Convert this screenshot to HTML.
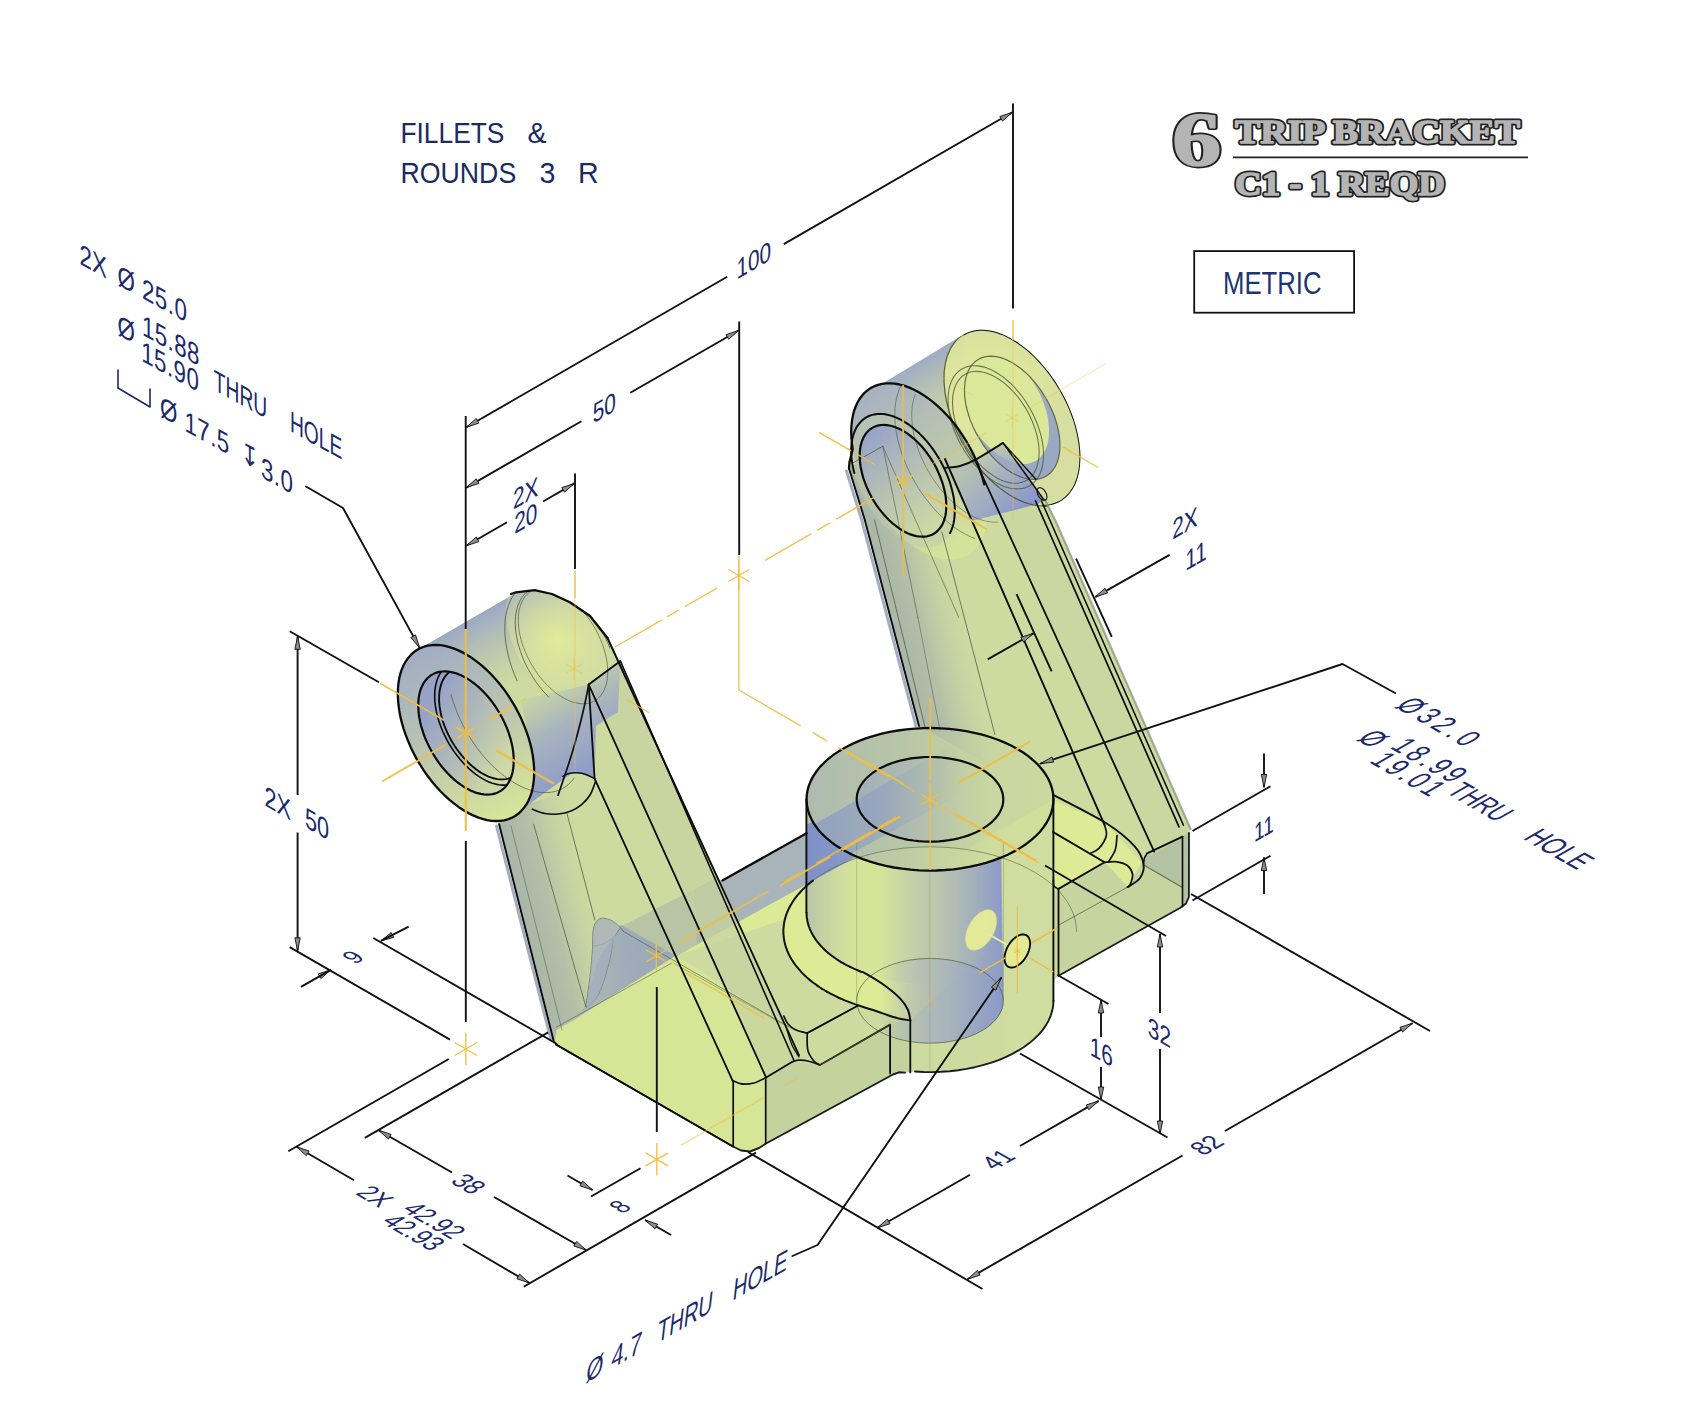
<!DOCTYPE html>
<html><head><meta charset="utf-8"><title>Trip Bracket</title>
<style>html,body{margin:0;padding:0;background:#fff}svg{display:block}text{font-family:"Liberation Sans",sans-serif}</style>
</head><body>
<svg width="1701" height="1411" viewBox="0 0 1701 1411">
<rect width="1701" height="1411" fill="#fff"/>
<polygon points="417.8,649.5 414.5,651.6 411.5,654.2 408.7,657.2 406.2,660.6 404.1,664.3 402.2,668.3 400.7,672.7 399.4,677.4 398.6,682.4 398.0,687.6 397.8,693.0 397.9,698.6 398.4,704.5 399.2,710.4 400.4,716.5 401.8,722.6 403.6,728.8 405.7,735.1 408.1,741.3 410.8,747.4 413.8,753.5 417.0,759.5 420.5,765.4 424.2,771.1 428.1,776.6 432.2,781.9 436.5,786.9 440.9,791.7 445.4,796.2 450.1,800.4 454.8,804.2 459.6,807.7 464.4,810.8 469.2,813.5 474.0,815.8 478.8,817.7 483.5,819.2 488.1,820.3 492.6,820.9 497.0,821.0 499.1,824.2 553.5,1040.0 556.0,1044.5 733.0,1146.5 741.0,1150.5 750.0,1151.5 759.0,1148.0 766.0,1143.5 893.0,1074.5 899.0,1072.3 905.0,1072.6 915.0,1071.5 923.6,1072.0 932.3,1072.1 941.0,1071.8 949.7,1071.2 958.2,1070.2 966.6,1068.9 974.8,1067.2 982.8,1065.2 990.6,1062.9 998.0,1060.3 1005.1,1057.4 1011.8,1054.2 1018.1,1050.7 1024.0,1047.0 1029.4,1043.1 1034.3,1038.9 1038.7,1034.6 1042.6,1030.1 1045.9,1025.4 1048.6,1020.6 1050.7,1015.8 1052.2,1010.8 1053.1,1005.8 1053.5,1000.8 1053.5,985.0 1055.0,979.0 1058.5,975.7 1180.0,908.0 1186.0,903.5 1188.9,897.0 1189.0,833.0 1190.5,829.0 1056.0,522.0 1045.0,500.0 1043.2,505.8 1047.4,505.6 1051.4,504.9 1055.2,503.7 1058.9,502.2 1062.2,500.2 1065.4,497.8 1068.3,495.0 1070.9,491.8 1073.2,488.3 1075.2,484.4 1076.9,480.2 1078.2,475.7 1079.3,470.8 1080.0,465.7 1080.3,460.4 1080.4,454.9 1080.1,449.2 1079.4,443.3 1078.4,437.3 1077.1,431.2 1075.5,425.0 1073.6,418.8 1071.3,412.6 1068.8,406.4 1065.9,400.3 1062.8,394.3 1059.5,388.4 1055.9,382.6 1052.1,377.0 1048.1,371.6 1043.9,366.4 1039.6,361.5 1035.1,356.9 1030.6,352.6 1025.9,348.5 1021.1,344.9 1016.4,341.6 1011.5,338.7 1006.7,336.2 1002.0,334.0 997.2,332.3 992.6,331.1 988.0,330.2 983.6,329.8 979.3,329.8 975.2,330.3 971.2,331.2 967.5,332.5 964.0,334.3 883.9,382.8 871.2,387.8 867.9,390.0 864.8,392.6 862.1,395.6 859.6,398.9 857.4,402.7 855.5,406.8 854.0,411.2 852.8,415.9 851.9,420.9 851.4,426.2 851.2,431.6 851.4,437.3 851.9,443.2 852.7,449.2 849.5,462.0 848.6,469.0 864.8,520.0 919.0,726.0 919.2,728.3 910.6,728.9 902.0,729.9 893.6,731.2 885.4,732.8 877.4,734.8 869.6,737.1 862.2,739.7 855.0,742.7 848.3,745.9 842.0,749.3 836.1,753.0 830.7,757.0 825.7,761.1 821.3,765.5 817.5,770.0 814.2,774.6 811.4,779.4 809.3,784.3 807.8,789.3 806.9,794.3 806.5,799.3 806.3,833.4 719.0,881.5 607.5,638.0 605.1,635.0 590.0,616.0 569.9,602.3 552.0,594.0 534.6,590.1 515.8,592.9" stroke="none" stroke-width="0" fill="#cedba0" stroke-linejoin="round" stroke-linecap="round" />
<clipPath id="cpSil"><polygon points="417.8,649.5 414.5,651.6 411.5,654.2 408.7,657.2 406.2,660.6 404.1,664.3 402.2,668.3 400.7,672.7 399.4,677.4 398.6,682.4 398.0,687.6 397.8,693.0 397.9,698.6 398.4,704.5 399.2,710.4 400.4,716.5 401.8,722.6 403.6,728.8 405.7,735.1 408.1,741.3 410.8,747.4 413.8,753.5 417.0,759.5 420.5,765.4 424.2,771.1 428.1,776.6 432.2,781.9 436.5,786.9 440.9,791.7 445.4,796.2 450.1,800.4 454.8,804.2 459.6,807.7 464.4,810.8 469.2,813.5 474.0,815.8 478.8,817.7 483.5,819.2 488.1,820.3 492.6,820.9 497.0,821.0 499.1,824.2 553.5,1040.0 556.0,1044.5 733.0,1146.5 741.0,1150.5 750.0,1151.5 759.0,1148.0 766.0,1143.5 893.0,1074.5 899.0,1072.3 905.0,1072.6 915.0,1071.5 923.6,1072.0 932.3,1072.1 941.0,1071.8 949.7,1071.2 958.2,1070.2 966.6,1068.9 974.8,1067.2 982.8,1065.2 990.6,1062.9 998.0,1060.3 1005.1,1057.4 1011.8,1054.2 1018.1,1050.7 1024.0,1047.0 1029.4,1043.1 1034.3,1038.9 1038.7,1034.6 1042.6,1030.1 1045.9,1025.4 1048.6,1020.6 1050.7,1015.8 1052.2,1010.8 1053.1,1005.8 1053.5,1000.8 1053.5,985.0 1055.0,979.0 1058.5,975.7 1180.0,908.0 1186.0,903.5 1188.9,897.0 1189.0,833.0 1190.5,829.0 1056.0,522.0 1045.0,500.0 1043.2,505.8 1047.4,505.6 1051.4,504.9 1055.2,503.7 1058.9,502.2 1062.2,500.2 1065.4,497.8 1068.3,495.0 1070.9,491.8 1073.2,488.3 1075.2,484.4 1076.9,480.2 1078.2,475.7 1079.3,470.8 1080.0,465.7 1080.3,460.4 1080.4,454.9 1080.1,449.2 1079.4,443.3 1078.4,437.3 1077.1,431.2 1075.5,425.0 1073.6,418.8 1071.3,412.6 1068.8,406.4 1065.9,400.3 1062.8,394.3 1059.5,388.4 1055.9,382.6 1052.1,377.0 1048.1,371.6 1043.9,366.4 1039.6,361.5 1035.1,356.9 1030.6,352.6 1025.9,348.5 1021.1,344.9 1016.4,341.6 1011.5,338.7 1006.7,336.2 1002.0,334.0 997.2,332.3 992.6,331.1 988.0,330.2 983.6,329.8 979.3,329.8 975.2,330.3 971.2,331.2 967.5,332.5 964.0,334.3 883.9,382.8 871.2,387.8 867.9,390.0 864.8,392.6 862.1,395.6 859.6,398.9 857.4,402.7 855.5,406.8 854.0,411.2 852.8,415.9 851.9,420.9 851.4,426.2 851.2,431.6 851.4,437.3 851.9,443.2 852.7,449.2 849.5,462.0 848.6,469.0 864.8,520.0 919.0,726.0 919.2,728.3 910.6,728.9 902.0,729.9 893.6,731.2 885.4,732.8 877.4,734.8 869.6,737.1 862.2,739.7 855.0,742.7 848.3,745.9 842.0,749.3 836.1,753.0 830.7,757.0 825.7,761.1 821.3,765.5 817.5,770.0 814.2,774.6 811.4,779.4 809.3,784.3 807.8,789.3 806.9,794.3 806.5,799.3 806.3,833.4 719.0,881.5 607.5,638.0 605.1,635.0 590.0,616.0 569.9,602.3 552.0,594.0 534.6,590.1 515.8,592.9"/></clipPath>
<defs>
<linearGradient id="gBossTop" gradientUnits="userSpaceOnUse" x1="470" y1="620" x2="515" y2="698"><stop offset="0" stop-color="#9aa6c8" stop-opacity="0.95"/><stop offset="0.55" stop-color="#b9c4b0" stop-opacity="0.6"/><stop offset="1" stop-color="#cedba0" stop-opacity="0"/></linearGradient>
<linearGradient id="gBossTopR" gradientUnits="userSpaceOnUse" x1="925" y1="355" x2="970" y2="433"><stop offset="0" stop-color="#9aa6c8" stop-opacity="0.95"/><stop offset="0.55" stop-color="#b9c4b0" stop-opacity="0.6"/><stop offset="1" stop-color="#cedba0" stop-opacity="0"/></linearGradient>
<linearGradient id="gAnn" gradientUnits="userSpaceOnUse" x1="425" y1="655" x2="505" y2="812"><stop offset="0" stop-color="#a3aec4"/><stop offset="0.5" stop-color="#bcc6b0"/><stop offset="1" stop-color="#d6e39a"/></linearGradient>
<linearGradient id="gHoleL" gradientUnits="userSpaceOnUse" x1="440" y1="690" x2="520" y2="735"><stop offset="0" stop-color="#97a3c6"/><stop offset="0.6" stop-color="#b6c0b4"/><stop offset="1" stop-color="#cfd8a6"/></linearGradient>
<linearGradient id="gUnder" gradientUnits="userSpaceOnUse" x1="560" y1="700" x2="590" y2="752"><stop offset="0" stop-color="#9ba7c6" stop-opacity="0"/><stop offset="0.6" stop-color="#9ba7c6" stop-opacity="0.75"/><stop offset="1" stop-color="#95a2c6" stop-opacity="0.95"/></linearGradient>
<linearGradient id="gUnderR" gradientUnits="userSpaceOnUse" x1="985" y1="450" x2="1015" y2="502"><stop offset="0" stop-color="#9ba7c6" stop-opacity="0"/><stop offset="0.6" stop-color="#9ba7c6" stop-opacity="0.75"/><stop offset="1" stop-color="#8f9cc8" stop-opacity="0.95"/></linearGradient>
<linearGradient id="gBand" gradientUnits="userSpaceOnUse" x1="700" y1="893" x2="700" y2="935"><stop offset="0" stop-color="#97a3c8" stop-opacity="0.95"/><stop offset="0.6" stop-color="#a9b4bd" stop-opacity="0.8"/><stop offset="1" stop-color="#c9d2a8" stop-opacity="0"/></linearGradient>
<linearGradient id="gBore" gradientUnits="userSpaceOnUse" x1="880" y1="0" x2="1003" y2="0"><stop offset="0" stop-color="#9aa6c6" stop-opacity="0"/><stop offset="0.55" stop-color="#a3aebf" stop-opacity="0.7"/><stop offset="1" stop-color="#8b99c9" stop-opacity="1"/></linearGradient>
<linearGradient id="gBoreTop" gradientUnits="userSpaceOnUse" x1="857" y1="0" x2="1003" y2="0"><stop offset="0" stop-color="#8e9cc8"/><stop offset="0.45" stop-color="#a6b3b8"/><stop offset="0.8" stop-color="#c3d1a2"/><stop offset="1" stop-color="#cbd9a0"/></linearGradient>
<linearGradient id="gHubL" gradientUnits="userSpaceOnUse" x1="806" y1="0" x2="935" y2="0"><stop offset="0" stop-color="#b3bdb6" stop-opacity="0.85"/><stop offset="0.4" stop-color="#c3ccae" stop-opacity="0.6"/><stop offset="0.75" stop-color="#d3dba2" stop-opacity="0"/><stop offset="1" stop-color="#d3dba2" stop-opacity="0"/></linearGradient>
<linearGradient id="gHubTop" gradientUnits="userSpaceOnUse" x1="806" y1="0" x2="1053" y2="0"><stop offset="0" stop-color="#9aa8b8"/><stop offset="0.4" stop-color="#aab8ac"/><stop offset="0.75" stop-color="#c6d4a0"/><stop offset="1" stop-color="#c9d7a0"/></linearGradient>
<linearGradient id="gArmL" gradientUnits="userSpaceOnUse" x1="500" y1="900" x2="600" y2="875"><stop offset="0" stop-color="#a3afaa"/><stop offset="0.45" stop-color="#b3bfa7"/><stop offset="1" stop-color="#cedba0" stop-opacity="0"/></linearGradient>
<linearGradient id="gArmR" gradientUnits="userSpaceOnUse" x1="872" y1="620" x2="972" y2="595"><stop offset="0" stop-color="#a3afaa"/><stop offset="0.45" stop-color="#b3bfa7"/><stop offset="1" stop-color="#cedba0" stop-opacity="0"/></linearGradient>
<radialGradient id="gBackR" gradientUnits="userSpaceOnUse" cx="990" cy="395" r="80"><stop offset="0" stop-color="#e6ec98"/><stop offset="1" stop-color="#d6dea2"/></radialGradient>
<radialGradient id="gBackL" gradientUnits="userSpaceOnUse" cx="558" cy="640" r="70"><stop offset="0" stop-color="#e3ea98"/><stop offset="1" stop-color="#d2dba4" stop-opacity="0.3"/></radialGradient>
</defs>
<g clip-path="url(#cpSil)">
<polygon points="677.6,955.2 806.4,884.4 806.4,912.6 783.4,931.5 783.5,934.3 783.7,937.0 784.1,939.8 784.7,942.5 785.4,945.3 786.2,948.0 787.2,950.7 788.4,953.4 789.7,956.1 791.2,958.7 792.8,961.3 794.6,963.9 796.5,966.4 798.5,968.9 800.7,971.4 803.0,973.8 805.5,976.2 808.1,978.5 810.8,980.8 813.7,983.0 816.7,985.2 819.8,987.3 823.0,989.4 826.3,991.4 829.8,993.3 833.3,995.1 837.0,996.9 840.8,998.6 844.6,1000.3 848.6,1001.9 852.6,1003.4 856.7,1004.8 860.9,1006.1 865.2,1007.4 869.5,1008.6 873.9,1009.7 878.4,1010.7 882.9,1011.6 887.4,1012.5 892.1,1013.3 890.0,1017.0 910.0,1020.0 1058.5,889.0 1053.0,880.0 1053.0,800.0 930.0,870.0 806.0,912.0" fill="#dcea96" opacity="1.0" />
<polygon points="892.1,1013.3 884.7,1012.0 877.5,1010.5 870.4,1008.8 863.4,1006.9 856.7,1004.8 850.2,1002.5 843.8,1000.0 837.7,997.3 831.9,994.4 826.3,991.4 821.1,988.1 816.1,984.8 811.4,981.3 807.0,977.6 803.0,973.8 799.4,969.9 796.1,965.9 793.1,961.8 790.6,957.7 788.4,953.4 786.6,949.1 785.2,944.7 784.2,940.3 783.6,935.9 783.4,931.5 783.6,927.1 784.2,922.7 785.2,918.3 786.6,913.9 788.4,909.6 790.6,905.3 793.1,901.2 796.1,897.1 799.4,893.1 803.0,889.2 807.0,885.4 811.4,881.7 816.1,878.2 821.1,874.9 826.3,871.6 831.9,868.6 837.7,865.7 843.8,863.0 850.2,860.5 856.7,858.2 863.4,856.1 870.4,854.2 877.5,852.5 884.7,851.0 892.1,849.7 899.5,848.7 907.1,847.9 914.7,847.3 922.3,847.0 930.0,846.9 937.7,847.0 945.3,847.3 952.9,847.9 960.5,848.7 967.9,849.7 1053.0,800.0 1053.0,880.0 1058.5,889.0 910.0,1020.0 890.0,1017.0" fill="#deeb96" opacity="1.0" />
<polygon points="1053.0,800.0 1106.0,823.0 1143.0,864.0 1127.6,887.0 1104.6,862.3 1058.5,889.0 1053.0,880.0" fill="#deeb96" opacity="1.0" />
<polygon points="719.0,875.4 806.4,825.0 806.4,884.4 719.0,932.4" fill="#a7b5ba" opacity="1.0" />
<polygon points="765.7,1077.7 792.3,1061.8 820.0,1065.0 890.0,1024.6 910.3,1020.3 910.3,1072.4 893.0,1074.5 766.0,1143.5" fill="#c4d29e" opacity="1.0" />
<polygon points="1058.5,888.9 1104.6,862.3 1127.6,887.1 1147.1,853.4 1182.5,836.6 1189.0,833.0 1189.0,897.0 1180.0,908.0 1058.5,975.7" fill="#c6d4a0" opacity="1.0" />
<polygon points="1143.8,865.0 1147.0,856.0 1154.4,853.3 1182.0,837.4 1182.0,887.3" fill="#b5c3a5" opacity="1.0" />
<polygon points="1182.3,837.0 1189.0,832.0 1189.0,897.0 1186.0,903.5 1182.3,906.0" fill="#b3c0a8" opacity="1.0" />
<polygon points="499.1,824.2 505.0,812.0 540.0,800.0 594.6,778.7 732.6,1080.7 735.0,1147.0 554.0,1042.4" fill="url(#gArmL)"/>
<polygon points="848.8,469.0 870.0,455.0 900.0,470.0 976.0,462.0 1104.0,818.0 1053.0,800.0 919.0,726.0 864.8,520.0" fill="url(#gArmR)"/>
<polygon points="622.0,926.0 700.0,886.3 700.0,942.9 676.4,956.4" fill="#b6c3a6" opacity="0.95" />
<polygon points="694.0,889.8 719.0,875.4 742.0,919.8 700.0,942.9 697.0,944.5" fill="#aab7ac" opacity="0.95" />
<linearGradient id="gWedge" gradientUnits="userSpaceOnUse" x1="590" y1="960" x2="670" y2="950"><stop offset="0" stop-color="#aab6b2"/><stop offset="0.5" stop-color="#9eabb9"/><stop offset="1" stop-color="#9aa8b8"/></linearGradient>
<polygon points="574.0,1020.0 584.0,1008.0 598.0,960.0 621.1,924.7 675.8,955.8" fill="url(#gWedge)" opacity="1.0" />
<polygon points="556.5,1030.0 574.0,1020.0 675.8,955.8 786.0,1024.5 799.0,1055.0 766.0,1078.0 766.0,1143.0 750.0,1151.5 735.0,1147.0 554.5,1043.0" fill="#d7e696" opacity="1.0" />
<polygon points="588.7,684.6 620.4,661.1 799.0,1055.2 765.8,1076.9" fill="#c6d3a0" opacity="0.75" />
<polygon points="976.0,462.0 1039.0,500.0 1187.7,830.8 1152.8,852.5" fill="#c8d5a0" opacity="0.75" />
<polygon points="417.8,649.5 421.3,647.7 425.0,646.4 428.9,645.5 432.9,645.0 437.2,645.0 441.6,645.4 446.1,646.2 450.7,647.4 455.3,649.1 460.1,651.1 464.8,653.6 469.6,656.4 474.3,659.6 479.0,663.2 483.7,667.1 488.2,671.4 492.6,675.9 497.0,680.7 501.1,685.8 505.1,691.1 508.9,696.6 512.5,702.3 515.9,708.1 519.0,714.0 521.9,720.1 607.0,640.0 605.1,635.0 590.0,616.0 569.9,602.3 552.0,594.0 534.6,590.1 515.8,592.9" fill="url(#gBossTop)"/>
<polygon points="606.2,669.0 606.1,664.9 605.7,660.6 605.1,656.3 604.3,651.9 603.2,647.4 601.9,642.9 600.3,638.4 598.6,633.9 596.6,629.4 594.5,624.9 592.1,620.6 589.6,616.3 586.9,612.2 584.1,608.2 581.1,604.3 578.0,600.6 574.8,597.1 571.5,593.8 568.1,590.8 564.7,588.0 561.2,585.4 557.8,583.1 554.2,581.1 550.8,579.3 547.3,577.9 543.9,576.8 540.5,575.9 537.2,575.4 534.0,575.2 530.9,575.3 527.9,575.7 525.1,576.5 522.4,577.5 519.9,578.9 517.5,580.5 515.4,582.5 513.4,584.7 511.7,587.2 510.1,590.0 508.8,592.9 507.7,596.2 506.9,599.6 506.3,603.2 505.9,607.0 505.8,611.0 505.9,615.1 506.3,619.4 506.9,623.7 507.7,628.1 508.8,632.6 510.1,637.1 511.7,641.6 513.4,646.1 515.4,650.6 517.5,655.1 519.9,659.4 522.4,663.7 525.1,667.8 527.9,671.8 530.9,675.7 534.0,679.4 537.2,682.9 540.5,686.2 543.9,689.2 547.3,692.0 550.8,694.6 554.2,696.9 557.8,698.9 561.2,700.7 564.7,702.1 568.1,703.2 571.5,704.1 574.8,704.6 578.0,704.8 581.1,704.7 584.1,704.3 586.9,703.5 589.6,702.5 592.1,701.1 594.5,699.5 596.6,697.5 598.6,695.3 600.3,692.8 601.9,690.0 603.2,687.1 604.3,683.8 605.1,680.4 605.7,676.8 606.1,673.0 606.2,669.0" fill="url(#gBackL)" opacity="1.0" />
<linearGradient id="gUnder2" gradientUnits="userSpaceOnUse" x1="540" y1="690" x2="586" y2="770"><stop offset="0" stop-color="#a6b1c0" stop-opacity="0.15"/><stop offset="0.45" stop-color="#9eaac4" stop-opacity="0.8"/><stop offset="1" stop-color="#909dc8" stop-opacity="1"/></linearGradient>
<polygon points="520.5,700.0 588.7,684.6 620.4,661.1 618.0,712.0 596.0,726.0 594.6,778.7 574.6,771.6 534.6,800.0 514.3,816.5 525.1,806.5 527.4,802.8 529.4,798.7 531.0,794.2 532.4,789.5 533.3,784.4 533.9,779.1 534.2,773.5 534.1,767.7 533.6,761.8 532.8,755.6 531.6,749.4 530.1,743.1" fill="url(#gUnder2)"/>
<polygon points="534.2,772.4 534.0,766.8 533.5,761.0 532.7,755.1 531.6,749.1 530.1,743.1 528.3,736.9 526.2,730.8 523.8,724.7 521.2,718.6 518.2,712.5 515.1,706.6 511.6,700.8 508.0,695.2 504.1,689.7 500.1,684.5 495.9,679.5 491.5,674.7 487.1,670.3 482.5,666.1 477.8,662.3 473.1,658.8 468.4,655.7 463.6,652.9 458.9,650.6 454.2,648.6 449.5,647.1 444.9,645.9 440.5,645.2 436.1,645.0 431.9,645.1 427.9,645.7 424.0,646.7 420.4,648.1 416.9,650.0 413.8,652.2 410.8,654.9 408.2,657.9 405.8,661.3 403.7,665.0 401.9,669.1 400.4,673.4 399.3,678.1 398.5,683.0 398.0,688.2 397.8,693.6 398.0,699.2 398.5,705.0 399.3,710.9 400.4,716.9 401.9,722.9 403.7,729.1 405.8,735.2 408.2,741.3 410.8,747.4 413.8,753.5 416.9,759.4 420.4,765.2 424.0,770.8 427.9,776.3 431.9,781.5 436.1,786.5 440.5,791.3 444.9,795.7 449.5,799.9 454.2,803.7 458.9,807.2 463.6,810.3 468.4,813.1 473.1,815.4 477.8,817.4 482.5,818.9 487.1,820.1 491.5,820.8 495.9,821.0 500.1,820.9 504.1,820.3 508.0,819.3 511.6,817.9 515.1,816.0 518.2,813.8 521.2,811.1 523.8,808.1 526.2,804.7 528.3,801.0 530.1,796.9 531.6,792.6 532.7,787.9 533.5,783.0 534.0,777.8 534.2,772.4" fill="url(#gAnn)" opacity="1.0" />
<polygon points="513.7,760.6 513.6,756.7 513.3,752.6 512.7,748.5 511.9,744.3 510.9,740.0 509.6,735.8 508.2,731.5 506.5,727.2 504.6,722.9 502.6,718.7 500.3,714.5 497.9,710.5 495.4,706.5 492.7,702.7 489.9,699.0 486.9,695.5 483.9,692.2 480.8,689.1 477.5,686.2 474.3,683.5 471.0,681.1 467.7,678.9 464.3,676.9 461.0,675.3 457.7,673.9 454.5,672.8 451.2,672.1 448.1,671.6 445.1,671.4 442.1,671.5 439.3,671.9 436.6,672.6 434.1,673.6 431.7,674.9 429.4,676.5 427.4,678.3 425.5,680.4 423.8,682.8 422.4,685.4 421.1,688.2 420.1,691.3 419.3,694.6 418.7,698.0 418.4,701.7 418.3,705.4 418.4,709.3 418.7,713.4 419.3,717.5 420.1,721.7 421.1,726.0 422.4,730.2 423.8,734.5 425.5,738.8 427.4,743.1 429.4,747.3 431.7,751.5 434.1,755.5 436.6,759.5 439.3,763.3 442.1,767.0 445.1,770.5 448.1,773.8 451.2,776.9 454.5,779.8 457.7,782.5 461.0,784.9 464.3,787.1 467.7,789.1 471.0,790.7 474.3,792.1 477.5,793.2 480.8,793.9 483.9,794.4 486.9,794.6 489.9,794.5 492.7,794.1 495.4,793.4 497.9,792.4 500.3,791.1 502.6,789.5 504.6,787.7 506.5,785.6 508.2,783.2 509.6,780.6 510.9,777.8 511.9,774.7 512.7,771.4 513.3,768.0 513.6,764.3 513.7,760.6" fill="url(#gHoleL)" opacity="1.0" />
<polygon points="871.2,387.8 874.8,386.0 878.6,384.7 882.6,383.8 886.8,383.3 891.2,383.3 895.7,383.8 900.3,384.7 905.1,386.0 909.9,387.8 914.7,390.0 919.6,392.7 924.5,395.7 929.4,399.1 934.2,402.9 938.9,407.1 943.5,411.6 948.0,416.4 952.4,421.4 956.6,426.7 960.6,432.3 964.4,438.1 967.9,444.0 971.2,450.0 974.3,456.2 977.0,462.5 979.5,468.8 981.7,475.1 983.5,481.4 1000.0,445.0 948.1,407.7 946.6,401.6 945.5,395.5 944.6,389.5 944.1,383.7 944.0,378.0 944.2,372.5 944.7,367.3 945.6,362.3 946.8,357.6 948.4,353.2 950.2,349.1 952.4,345.4 954.9,342.0 957.6,339.0 960.7,336.5 964.0,334.3" fill="url(#gBossTopR)"/>
<polygon points="1080.4,457.2 1080.2,451.6 1079.7,445.8 1078.9,439.9 1077.8,433.9 1076.3,427.9 1074.5,421.7 1072.4,415.6 1070.0,409.5 1067.4,403.4 1064.4,397.3 1061.3,391.4 1057.8,385.6 1054.2,380.0 1050.3,374.5 1046.3,369.3 1042.1,364.3 1037.7,359.5 1033.3,355.1 1028.7,350.9 1024.0,347.1 1019.3,343.6 1014.6,340.5 1009.8,337.7 1005.1,335.4 1000.4,333.4 995.7,331.9 991.1,330.7 986.7,330.0 982.3,329.8 978.1,329.9 974.1,330.5 970.2,331.5 966.6,332.9 963.1,334.8 960.0,337.0 957.0,339.7 954.4,342.7 952.0,346.1 949.9,349.8 948.1,353.9 946.6,358.2 945.5,362.9 944.7,367.8 944.2,373.0 944.0,378.4 944.2,384.0 944.7,389.8 945.5,395.7 946.6,401.7 948.1,407.7 949.9,413.9 952.0,420.0 954.4,426.1 957.0,432.2 960.0,438.3 963.1,444.2 966.6,450.0 970.2,455.6 974.1,461.1 978.1,466.3 982.3,471.3 986.7,476.1 991.1,480.5 995.7,484.7 1000.4,488.5 1005.1,492.0 1009.8,495.1 1014.6,497.9 1019.3,500.2 1024.0,502.2 1028.7,503.7 1033.3,504.9 1037.7,505.6 1042.1,505.8 1046.3,505.7 1050.3,505.1 1054.2,504.1 1057.8,502.7 1061.3,500.8 1064.4,498.6 1067.4,495.9 1070.0,492.9 1072.4,489.5 1074.5,485.8 1076.3,481.7 1077.8,477.4 1078.9,472.7 1079.7,467.8 1080.2,462.6 1080.4,457.2" fill="url(#gBackR)" opacity="1.0" />
<clipPath id="cpRB"><polygon points="1059.9,445.4 1059.8,441.5 1059.5,437.4 1058.9,433.3 1058.1,429.1 1057.1,424.8 1055.8,420.6 1054.4,416.3 1052.7,412.0 1050.8,407.7 1048.8,403.5 1046.5,399.3 1044.1,395.3 1041.6,391.3 1038.9,387.5 1036.1,383.8 1033.1,380.3 1030.1,377.0 1027.0,373.9 1023.7,371.0 1020.5,368.3 1017.2,365.9 1013.9,363.7 1010.5,361.7 1007.2,360.1 1003.9,358.7 1000.7,357.6 997.4,356.9 994.3,356.4 991.3,356.2 988.3,356.3 985.5,356.7 982.8,357.4 980.3,358.4 977.9,359.7 975.6,361.3 973.6,363.1 971.7,365.2 970.0,367.6 968.6,370.2 967.3,373.0 966.3,376.1 965.5,379.4 964.9,382.8 964.6,386.5 964.5,390.2 964.6,394.1 964.9,398.2 965.5,402.3 966.3,406.5 967.3,410.8 968.6,415.0 970.0,419.3 971.7,423.6 973.6,427.9 975.6,432.1 977.9,436.3 980.3,440.3 982.8,444.3 985.5,448.1 988.3,451.8 991.3,455.3 994.3,458.6 997.4,461.7 1000.7,464.6 1003.9,467.3 1007.2,469.7 1010.5,471.9 1013.9,473.9 1017.2,475.5 1020.5,476.9 1023.7,478.0 1027.0,478.7 1030.1,479.2 1033.1,479.4 1036.1,479.3 1038.9,478.9 1041.6,478.2 1044.1,477.2 1046.5,475.9 1048.8,474.3 1050.8,472.5 1052.7,470.4 1054.4,468.0 1055.8,465.4 1057.1,462.6 1058.1,459.5 1058.9,456.2 1059.5,452.8 1059.8,449.1 1059.9,445.4"/></clipPath>
<g clip-path="url(#cpRB)"><polygon points="1059.9,445.4 1059.8,441.5 1059.5,437.4 1058.9,433.3 1058.1,429.1 1057.1,424.8 1055.8,420.6 1054.4,416.3 1052.7,412.0 1050.8,407.7 1048.8,403.5 1046.5,399.3 1044.1,395.3 1041.6,391.3 1038.9,387.5 1036.1,383.8 1033.1,380.3 1030.1,377.0 1027.0,373.9 1023.7,371.0 1020.5,368.3 1017.2,365.9 1013.9,363.7 1010.5,361.7 1007.2,360.1 1003.9,358.7 1000.7,357.6 997.4,356.9 994.3,356.4 991.3,356.2 988.3,356.3 985.5,356.7 982.8,357.4 980.3,358.4 977.9,359.7 975.6,361.3 973.6,363.1 971.7,365.2 970.0,367.6 968.6,370.2 967.3,373.0 966.3,376.1 965.5,379.4 964.9,382.8 964.6,386.5 964.5,390.2 964.6,394.1 964.9,398.2 965.5,402.3 966.3,406.5 967.3,410.8 968.6,415.0 970.0,419.3 971.7,423.6 973.6,427.9 975.6,432.1 977.9,436.3 980.3,440.3 982.8,444.3 985.5,448.1 988.3,451.8 991.3,455.3 994.3,458.6 997.4,461.7 1000.7,464.6 1003.9,467.3 1007.2,469.7 1010.5,471.9 1013.9,473.9 1017.2,475.5 1020.5,476.9 1023.7,478.0 1027.0,478.7 1030.1,479.2 1033.1,479.4 1036.1,479.3 1038.9,478.9 1041.6,478.2 1044.1,477.2 1046.5,475.9 1048.8,474.3 1050.8,472.5 1052.7,470.4 1054.4,468.0 1055.8,465.4 1057.1,462.6 1058.1,459.5 1058.9,456.2 1059.5,452.8 1059.8,449.1 1059.9,445.4" fill="#95a2c8" opacity="0.9"/><polygon points="1049.0,431.3 1048.9,427.5 1048.6,423.6 1048.0,419.7 1047.3,415.6 1046.3,411.6 1045.1,407.4 1043.7,403.3 1042.1,399.2 1040.3,395.1 1038.3,391.1 1036.2,387.1 1033.9,383.2 1031.4,379.4 1028.8,375.7 1026.1,372.2 1023.3,368.8 1020.4,365.6 1017.4,362.6 1014.3,359.9 1011.2,357.3 1008.0,354.9 1004.8,352.8 1001.6,351.0 998.4,349.4 995.2,348.1 992.1,347.1 989.0,346.3 986.0,345.8 983.1,345.6 980.3,345.7 977.6,346.1 975.0,346.8 972.5,347.8 970.2,349.0 968.1,350.5 966.1,352.3 964.3,354.3 962.7,356.6 961.3,359.1 960.1,361.8 959.1,364.8 958.4,367.9 957.8,371.2 957.5,374.7 957.4,378.3 957.5,382.1 957.8,386.0 958.4,389.9 959.1,394.0 960.1,398.0 961.3,402.2 962.7,406.3 964.3,410.4 966.1,414.5 968.1,418.5 970.2,422.5 972.5,426.4 975.0,430.2 977.6,433.9 980.3,437.4 983.1,440.8 986.0,444.0 989.0,447.0 992.1,449.7 995.2,452.3 998.4,454.7 1001.6,456.8 1004.8,458.6 1008.0,460.2 1011.2,461.5 1014.3,462.5 1017.4,463.3 1020.4,463.8 1023.3,464.0 1026.1,463.9 1028.8,463.5 1031.4,462.8 1033.9,461.8 1036.2,460.6 1038.3,459.1 1040.3,457.3 1042.1,455.3 1043.7,453.0 1045.1,450.5 1046.3,447.8 1047.3,444.8 1048.0,441.7 1048.6,438.4 1048.9,434.9 1049.0,431.3" fill="#dbe899"/></g>
<linearGradient id="gHoleR" gradientUnits="userSpaceOnUse" x1="870" y1="430" x2="940" y2="520"><stop offset="0" stop-color="#97a3c8"/><stop offset="0.45" stop-color="#b3bdb6"/><stop offset="1" stop-color="#ccd8a4"/></linearGradient>
<linearGradient id="gAnnR" gradientUnits="userSpaceOnUse" x1="868" y1="395" x2="950" y2="545"><stop offset="0" stop-color="#a3aec4"/><stop offset="0.5" stop-color="#b9c5ae"/><stop offset="1" stop-color="#d6e39a"/></linearGradient>
<polygon points="987.6,510.7 987.4,505.1 986.9,499.3 986.1,493.4 985.0,487.4 983.5,481.4 981.7,475.2 979.6,469.1 977.2,463.0 974.6,456.9 971.6,450.8 968.5,444.9 965.0,439.1 961.4,433.5 957.5,428.0 953.5,422.8 949.3,417.8 944.9,413.0 940.5,408.6 935.9,404.4 931.2,400.6 926.5,397.1 921.8,394.0 917.0,391.2 912.3,388.9 907.6,386.9 902.9,385.4 898.3,384.2 893.9,383.5 889.5,383.3 885.3,383.4 881.3,384.0 877.4,385.0 873.8,386.4 870.3,388.3 867.2,390.5 864.2,393.2 861.6,396.2 859.2,399.6 857.1,403.3 855.3,407.4 853.8,411.7 852.7,416.4 851.9,421.3 851.4,426.5 851.2,431.9 851.4,437.5 851.9,443.3 852.7,449.2 853.8,455.2 855.3,461.2 857.1,467.4 859.2,473.5 861.6,479.6 864.2,485.7 867.2,491.8 870.3,497.7 873.8,503.5 877.4,509.1 881.3,514.6 885.3,519.8 889.5,524.8 893.9,529.6 898.3,534.0 902.9,538.2 907.6,542.0 912.3,545.5 917.0,548.6 921.8,551.4 926.5,553.7 931.2,555.7 935.9,557.2 940.5,558.4 944.9,559.1 949.3,559.3 953.5,559.2 957.5,558.6 961.4,557.6 965.0,556.2 968.5,554.3 971.6,552.1 974.6,549.4 977.2,546.4 979.6,543.0 981.7,539.3 983.5,535.2 985.0,530.9 986.1,526.2 986.9,521.3 987.4,516.1 987.6,510.7" fill="url(#gAnnR)" opacity="0.9" />
<polygon points="954.8,510.7 954.7,506.5 954.3,502.1 953.7,497.6 952.8,493.1 951.7,488.5 950.4,483.8 948.8,479.1 947.0,474.5 944.9,469.8 942.7,465.3 940.3,460.8 937.7,456.3 934.9,452.1 932.0,447.9 928.9,443.9 925.7,440.1 922.4,436.5 919.0,433.1 915.5,430.0 912.0,427.1 908.4,424.4 904.8,422.0 901.2,419.9 897.6,418.1 894.0,416.7 890.5,415.5 887.0,414.6 883.6,414.1 880.3,413.9 877.1,414.0 874.0,414.4 871.1,415.2 868.3,416.3 865.7,417.7 863.3,419.4 861.1,421.4 859.0,423.7 857.2,426.3 855.6,429.1 854.3,432.2 853.2,435.5 852.3,439.1 851.7,442.8 851.3,446.8 851.2,450.9 851.3,455.1 851.7,459.5 852.3,464.0 853.2,468.5 854.3,473.1 855.6,477.8 857.2,482.5 859.0,487.1 861.1,491.8 863.3,496.3 865.7,500.8 868.3,505.3 871.1,509.5 874.0,513.7 877.1,517.7 880.3,521.5 883.6,525.1 887.0,528.5 890.5,531.6 894.0,534.5 897.6,537.2 901.2,539.6 904.8,541.7 908.4,543.5 912.0,544.9 915.5,546.1 919.0,547.0 922.4,547.5 925.7,547.7 928.9,547.6 932.0,547.2 934.9,546.4 937.7,545.3 940.3,543.9 942.7,542.2 944.9,540.2 947.0,537.9 948.8,535.3 950.4,532.5 951.7,529.4 952.8,526.1 953.7,522.5 954.3,518.8 954.7,514.8 954.8,510.7" fill="#c0cbac" opacity="0.5" />
<polygon points="946.3,505.8 946.2,502.3 945.9,498.6 945.4,494.9 944.6,491.1 943.7,487.2 942.6,483.3 941.2,479.4 939.7,475.5 938.0,471.6 936.2,467.8 934.2,464.0 932.0,460.4 929.7,456.8 927.2,453.3 924.7,450.0 922.0,446.8 919.2,443.8 916.4,441.0 913.5,438.3 910.5,435.9 907.5,433.7 904.5,431.7 901.5,429.9 898.5,428.4 895.5,427.2 892.5,426.2 889.6,425.5 886.8,425.1 884.0,424.9 881.3,425.0 878.8,425.3 876.3,426.0 874.0,426.9 871.8,428.1 869.8,429.5 868.0,431.2 866.3,433.1 864.8,435.2 863.4,437.6 862.3,440.2 861.4,443.0 860.6,445.9 860.1,449.1 859.8,452.4 859.7,455.8 859.8,459.3 860.1,463.0 860.6,466.7 861.4,470.5 862.3,474.4 863.4,478.3 864.8,482.2 866.3,486.1 868.0,490.0 869.8,493.8 871.8,497.6 874.0,501.2 876.3,504.8 878.8,508.3 881.3,511.6 884.0,514.8 886.8,517.8 889.6,520.6 892.5,523.3 895.5,525.7 898.5,527.9 901.5,529.9 904.5,531.7 907.5,533.2 910.5,534.4 913.5,535.4 916.4,536.1 919.2,536.5 922.0,536.7 924.7,536.6 927.2,536.3 929.7,535.6 932.0,534.7 934.2,533.5 936.2,532.1 938.0,530.4 939.7,528.5 941.2,526.4 942.6,524.0 943.7,521.4 944.6,518.6 945.4,515.7 945.9,512.5 946.2,509.2 946.3,505.8" fill="url(#gHoleR)" opacity="1.0" />
<linearGradient id="gUnderR2" gradientUnits="userSpaceOnUse" x1="960" y1="455" x2="1020" y2="515"><stop offset="0" stop-color="#a9b3c0" stop-opacity="0.35"/><stop offset="0.5" stop-color="#9ba7c6" stop-opacity="0.8"/><stop offset="1" stop-color="#8796cc" stop-opacity="1"/></linearGradient>
<polygon points="945.2,467.8 960.0,466.0 977.0,458.8 1003.0,442.9 1043.8,499.6 1038.0,504.0 972.0,521.0" fill="url(#gUnderR2)"/>
<clipPath id="cpHub"><polygon points="806.5,799.3 806.8,804.3 807.7,809.2 809.2,814.1 811.3,818.9 814.0,823.7 817.2,828.3 821.0,832.8 825.3,837.1 830.1,841.2 835.4,845.1 841.2,848.8 847.4,852.3 854.0,855.5 861.0,858.4 868.3,861.0 875.9,863.4 883.8,865.4 891.9,867.1 900.1,868.5 908.6,869.5 917.1,870.2 925.7,870.5 934.3,870.5 942.9,870.2 951.4,869.5 959.9,868.5 968.1,867.1 976.2,865.4 984.1,863.4 991.7,861.0 999.0,858.4 1006.0,855.5 1012.6,852.3 1018.8,848.8 1024.6,845.1 1029.9,841.2 1034.7,837.1 1039.0,832.8 1042.8,828.3 1046.0,823.7 1048.7,818.9 1050.8,814.1 1052.3,809.2 1053.2,804.3 1053.5,799.3 1053.4,1000.0 1053.5,1000.8 1053.2,1005.8 1052.3,1010.7 1050.8,1015.6 1048.7,1020.4 1046.0,1025.2 1042.8,1029.8 1039.0,1034.3 1034.7,1038.6 1029.9,1042.7 1024.6,1046.6 1018.8,1050.3 1012.6,1053.8 1006.0,1057.0 999.0,1059.9 991.7,1062.5 984.1,1064.9 976.2,1066.9 968.1,1068.6 959.9,1070.0 951.4,1071.0 942.9,1071.7 934.3,1072.0 925.7,1072.0 917.1,1071.7 908.6,1071.0 900.1,1070.0 891.9,1068.6 883.8,1066.9 875.9,1064.9 868.3,1062.5 861.0,1059.9 854.0,1057.0 847.4,1053.8 841.2,1050.3 835.4,1046.6 830.1,1042.7 825.3,1038.6 821.0,1034.3 817.2,1029.8 814.0,1025.2 811.3,1020.4 809.2,1015.6 807.7,1010.7 806.8,1005.8 806.5,1000.8"/></clipPath>
<polygon points="806.5,799.3 806.9,804.4 807.8,809.4 809.4,814.5 811.5,819.4 814.3,824.2 817.7,828.9 821.6,833.5 826.1,837.8 831.2,842.0 836.7,846.0 842.7,849.7 849.2,853.2 856.0,856.4 863.3,859.3 870.8,861.9 878.7,864.1 886.9,866.1 895.2,867.7 903.8,868.9 912.4,869.9 921.2,870.4 930.0,870.6 930.0,984.0 930.0,983.9 921.2,983.7 912.4,983.2 903.8,982.2 895.2,981.0 886.9,979.4 878.7,977.4 870.8,975.2 863.3,972.6 856.0,969.7 849.2,966.5 842.7,963.0 836.7,959.3 831.2,955.3 826.1,951.1 821.6,946.8 817.7,942.2 814.3,937.5 811.5,932.7 809.4,927.8 807.8,922.7 806.9,917.7 806.5,912.6" fill="#d5e39a" opacity="0.9" />
<linearGradient id="gHubL2" gradientUnits="userSpaceOnUse" x1="806" y1="0" x2="862" y2="0"><stop offset="0" stop-color="#b4c0ac" stop-opacity="0.9"/><stop offset="1" stop-color="#c9d6a2" stop-opacity="0"/></linearGradient>
<polygon points="806.5,799.3 806.9,804.4 807.8,809.4 809.4,814.5 811.5,819.4 814.3,824.2 817.7,828.9 821.6,833.5 826.1,837.8 831.2,842.0 836.7,846.0 842.7,849.7 849.2,853.2 856.0,856.4 863.3,859.3 870.8,861.9 878.7,864.1 886.9,866.1 895.2,867.7 903.8,868.9 912.4,869.9 921.2,870.4 930.0,870.6 930.0,984.0 930.0,983.9 921.2,983.7 912.4,983.2 903.8,982.2 895.2,981.0 886.9,979.4 878.7,977.4 870.8,975.2 863.3,972.6 856.0,969.7 849.2,966.5 842.7,963.0 836.7,959.3 831.2,955.3 826.1,951.1 821.6,946.8 817.7,942.2 814.3,937.5 811.5,932.7 809.4,927.8 807.8,922.7 806.9,917.7 806.5,912.6" fill="url(#gHubL2)" opacity="1.0" />
<linearGradient id="gBandH" gradientUnits="userSpaceOnUse" x1="806" y1="0" x2="935" y2="0"><stop offset="0" stop-color="#7f90c8"/><stop offset="0.45" stop-color="#8b9bc4"/><stop offset="0.8" stop-color="#a3b1b8" stop-opacity="0.7"/><stop offset="1" stop-color="#bcc9a8" stop-opacity="0"/></linearGradient>
<polygon points="806.0,825.2 935.0,750.8 935.0,813.6 806.0,884.6" fill="url(#gBandH)" clip-path="url(#cpHub)"/>
<polygon points="881.8,864.9 886.4,866.0 891.2,867.0 896.0,867.8 900.8,868.6 905.7,869.2 910.7,869.7 915.7,870.1 920.7,870.4 925.7,870.5 930.7,870.6 935.7,870.5 940.8,870.3 945.8,870.0 950.7,869.6 955.7,869.0 960.6,868.4 965.4,867.6 970.2,866.7 974.9,865.7 979.6,864.6 984.1,863.4 988.6,862.0 993.0,860.6 997.2,859.1 1001.4,857.4 1003.3,1000.8 1003.3,1000.8 1003.2,1003.0 1002.9,1005.2 1002.4,1007.4 1001.7,1009.6 1000.8,1011.8 999.7,1013.9 998.4,1016.0 997.0,1018.0 995.3,1020.0 993.5,1022.0 991.5,1023.8 989.3,1025.7 987.0,1027.4 984.5,1029.1 981.8,1030.7 979.0,1032.3 976.1,1033.7 973.1,1035.0 969.9,1036.3 966.7,1037.5 963.3,1038.5 959.8,1039.5 956.3,1040.3 952.7,1041.0 949.0,1041.7 945.2,1042.2 941.5,1042.6 937.7,1042.9 933.8,1043.1 930.0,1043.1 926.2,1043.1 922.3,1042.9 918.5,1042.6 914.8,1042.2 911.0,1041.7 907.3,1041.0 903.7,1040.3 900.2,1039.5 896.7,1038.5 893.3,1037.5 890.1,1036.3 886.9,1035.0 883.9,1033.7 881.0,1032.3 880.0,1000.8" fill="url(#gBore)"/>
<polygon points="981.8,970.9 985.3,973.0 988.5,975.3 991.5,977.8 994.1,980.3 996.4,982.9 998.4,985.6 1000.1,988.4 1001.4,991.3 1002.4,994.2 1003.0,997.1 1003.3,1000.1 1003.2,1003.0 1002.8,1006.0 1002.0,1008.9 1000.8,1011.8 999.3,1014.6 997.5,1017.3 995.3,1020.0 992.8,1022.6 990.0,1025.1 987.0,1027.4 983.6,1029.7 980.0,1031.8 976.1,1033.7 972.0,1035.5 967.8,1037.1 963.3,1038.5 958.6,1039.8 953.9,1040.8 949.0,1041.7 944.0,1042.3 938.9,1042.8 933.8,1043.1 928.7,1043.1 923.6,1043.0 918.5,1042.6 913.5,1042.0 908.6,1041.3 903.7,1040.3 899.0,1039.2 894.5,1037.8 890.1,1036.3 885.9,1034.6 881.9,1032.7 878.2,1030.7 874.7,1028.6 871.5,1026.3 868.5,1023.8 865.9,1021.3 863.6,1018.7 861.6,1016.0 859.9,1013.2 858.6,1010.3 857.6,1007.4 857.0,1004.5 856.7,1001.5 856.8,998.6 857.2,995.6 858.0,992.7 859.2,989.8 860.7,987.0 862.5,984.3 864.7,981.6 867.2,979.0 870.0,976.5 873.0,974.2 876.4,971.9 880.0,969.8 883.9,967.9 888.0,966.1 892.2,964.5 896.7,963.1 901.4,961.8 906.1,960.8 911.0,959.9 916.0,959.3 921.1,958.8 926.2,958.5 931.3,958.5 936.4,958.6 941.5,959.0 946.5,959.6 951.4,960.3 956.3,961.3 961.0,962.4 965.5,963.8 969.9,965.3 974.1,967.0 978.1,968.9 981.8,970.9" fill="url(#gBore)" opacity="0.8" />
<polygon points="1003.3,846.0 1004.0,856.3 1007.1,855.0 1010.2,853.5 1013.1,852.0 1016.0,850.4 1018.8,848.8 1021.5,847.1 1024.1,845.4 1026.6,843.7 1029.0,841.9 1031.3,840.0 1033.5,838.1 1035.6,836.2 1037.6,834.2 1039.5,832.2 1041.3,830.2 1042.9,828.1 1044.5,826.0 1045.9,823.9 1047.2,821.7 1048.4,819.5 1049.4,817.3 1050.4,815.1 1051.2,812.9 1051.9,810.7 1052.4,808.4 1052.9,806.1 1053.2,803.9 1053.4,801.6 1053.5,799.3 1053.4,1000.8 1053.5,1000.8 1053.4,1003.1 1053.2,1005.4 1052.9,1007.6 1052.4,1009.9 1051.9,1012.2 1051.2,1014.4 1050.4,1016.6 1049.4,1018.8 1048.4,1021.0 1047.2,1023.2 1045.9,1025.4 1044.5,1027.5 1042.9,1029.6 1041.3,1031.7 1039.5,1033.7 1037.6,1035.7 1035.6,1037.7 1033.5,1039.6 1031.3,1041.5 1029.0,1043.4 1026.6,1045.2 1024.1,1046.9 1021.5,1048.6 1018.8,1050.3 1016.0,1051.9 1013.1,1053.5 1010.2,1055.0 1007.1,1056.5 1004.0,1057.8 1003.3,1046.0" fill="#d0dda0" opacity="1.0" />
<polygon points="1017.3,748.9 1023.2,752.5 1028.6,756.4 1033.5,760.5 1038.0,764.7 1041.9,769.2 1045.3,773.8 1048.1,778.5 1050.3,783.3 1051.9,788.1 1053.0,793.1 1053.4,798.1 1053.3,803.0 1052.5,808.0 1051.2,812.9 1049.2,817.7 1046.7,822.5 1043.6,827.1 1040.0,831.7 1035.8,836.0 1031.1,840.2 1025.9,844.2 1020.3,847.9 1014.2,851.4 1007.7,854.7 1000.8,857.7 993.6,860.4 986.0,862.8 978.2,864.9 970.2,866.7 962.0,868.1 953.6,869.3 945.0,870.0 936.5,870.5 927.8,870.6 919.2,870.3 910.7,869.7 902.2,868.7 893.9,867.5 885.8,865.8 877.8,863.9 870.1,861.6 862.8,859.1 855.7,856.2 849.0,853.1 842.7,849.7 836.8,846.1 831.4,842.2 826.5,838.1 822.0,833.9 818.1,829.4 814.7,824.8 811.9,820.1 809.7,815.3 808.1,810.5 807.0,805.5 806.6,800.5 806.7,795.6 807.5,790.6 808.8,785.7 810.8,780.9 813.3,776.1 816.4,771.5 820.0,766.9 824.2,762.6 828.9,758.4 834.1,754.4 839.7,750.7 845.8,747.2 852.3,743.9 859.2,740.9 866.4,738.2 874.0,735.8 881.8,733.7 889.8,731.9 898.0,730.5 906.4,729.3 915.0,728.6 923.5,728.1 932.2,728.0 940.8,728.3 949.3,728.9 957.8,729.9 966.1,731.1 974.2,732.8 982.2,734.7 989.9,737.0 997.2,739.5 1004.3,742.4 1011.0,745.5 1017.3,748.9" fill="url(#gHubTop)" opacity="0.62" />
<polygon points="981.8,769.4 985.3,771.5 988.5,773.8 991.5,776.3 994.1,778.8 996.4,781.4 998.4,784.1 1000.1,786.9 1001.4,789.8 1002.4,792.7 1003.0,795.6 1003.3,798.6 1003.2,801.5 1002.8,804.5 1002.0,807.4 1000.8,810.3 999.3,813.1 997.5,815.8 995.3,818.5 992.8,821.1 990.0,823.6 987.0,825.9 983.6,828.2 980.0,830.3 976.1,832.2 972.0,834.0 967.8,835.6 963.3,837.0 958.6,838.3 953.9,839.3 949.0,840.2 944.0,840.8 938.9,841.3 933.8,841.6 928.7,841.6 923.6,841.5 918.5,841.1 913.5,840.5 908.6,839.8 903.7,838.8 899.0,837.7 894.5,836.3 890.1,834.8 885.9,833.1 881.9,831.2 878.2,829.2 874.7,827.1 871.5,824.8 868.5,822.3 865.9,819.8 863.6,817.2 861.6,814.5 859.9,811.7 858.6,808.8 857.6,805.9 857.0,803.0 856.7,800.0 856.8,797.1 857.2,794.1 858.0,791.2 859.2,788.3 860.7,785.5 862.5,782.8 864.7,780.1 867.2,777.5 870.0,775.0 873.0,772.7 876.4,770.4 880.0,768.3 883.9,766.4 888.0,764.6 892.2,763.0 896.7,761.6 901.4,760.3 906.1,759.3 911.0,758.4 916.0,757.8 921.1,757.3 926.2,757.0 931.3,757.0 936.4,757.1 941.5,757.5 946.5,758.1 951.4,758.8 956.3,759.8 961.0,760.9 965.5,762.3 969.9,763.8 974.1,765.5 978.1,767.4 981.8,769.4" fill="url(#gBoreTop)" opacity="0.45" />
<clipPath id="cpHubTop"><polygon points="1017.3,748.9 1023.2,752.5 1028.6,756.4 1033.5,760.5 1038.0,764.7 1041.9,769.2 1045.3,773.8 1048.1,778.5 1050.3,783.3 1051.9,788.1 1053.0,793.1 1053.4,798.1 1053.3,803.0 1052.5,808.0 1051.2,812.9 1049.2,817.7 1046.7,822.5 1043.6,827.1 1040.0,831.7 1035.8,836.0 1031.1,840.2 1025.9,844.2 1020.3,847.9 1014.2,851.4 1007.7,854.7 1000.8,857.7 993.6,860.4 986.0,862.8 978.2,864.9 970.2,866.7 962.0,868.1 953.6,869.3 945.0,870.0 936.5,870.5 927.8,870.6 919.2,870.3 910.7,869.7 902.2,868.7 893.9,867.5 885.8,865.8 877.8,863.9 870.1,861.6 862.8,859.1 855.7,856.2 849.0,853.1 842.7,849.7 836.8,846.1 831.4,842.2 826.5,838.1 822.0,833.9 818.1,829.4 814.7,824.8 811.9,820.1 809.7,815.3 808.1,810.5 807.0,805.5 806.6,800.5 806.7,795.6 807.5,790.6 808.8,785.7 810.8,780.9 813.3,776.1 816.4,771.5 820.0,766.9 824.2,762.6 828.9,758.4 834.1,754.4 839.7,750.7 845.8,747.2 852.3,743.9 859.2,740.9 866.4,738.2 874.0,735.8 881.8,733.7 889.8,731.9 898.0,730.5 906.4,729.3 915.0,728.6 923.5,728.1 932.2,728.0 940.8,728.3 949.3,728.9 957.8,729.9 966.1,731.1 974.2,732.8 982.2,734.7 989.9,737.0 997.2,739.5 1004.3,742.4 1011.0,745.5 1017.3,748.9"/></clipPath>
<linearGradient id="gBandH2" gradientUnits="userSpaceOnUse" x1="806" y1="0" x2="960" y2="0"><stop offset="0" stop-color="#8797c6" stop-opacity="0.75"/><stop offset="0.5" stop-color="#8f9ec2" stop-opacity="0.6"/><stop offset="1" stop-color="#a9b6b0" stop-opacity="0"/></linearGradient>
<polygon points="806.0,829.2 960.0,740.4 960.0,793.9 806.0,878.6" fill="url(#gBandH2)" clip-path="url(#cpHubTop)"/>
<polyline points="533.6,824.2 585.9,1006.7" stroke="#4d5a3a" stroke-width="1.0" fill="none" stroke-linejoin="round" stroke-linecap="round" opacity="0.75"/>
<polyline points="566.8,812.8 594.8,919.9" stroke="#4d5a3a" stroke-width="1.0" fill="none" stroke-linejoin="round" stroke-linecap="round" opacity="0.75"/>
<polyline points="511.0,826.0 562.0,1030.0" stroke="#4d5a3a" stroke-width="1.0" fill="none" stroke-linejoin="round" stroke-linecap="round" opacity="0.5"/>
<path d="M585.9,1006.7 C586.4,1002.9 588.1,992.7 589.2,983.7 C590.3,974.8 591.6,962.2 592.3,953.1 C593.0,944.0 592.4,934.6 593.5,928.9 C594.7,923.2 596.7,920.4 599.4,918.9 C602.2,917.4 606.9,918.7 610.1,919.9 C613.4,921.2 616.9,924.4 619.1,926.3 C621.3,928.2 622.7,930.6 623.4,931.4" stroke="#4d5a3a" stroke-width="1.0" fill="none" stroke-linejoin="round" stroke-linecap="round" opacity="0.75"/>
<path d="M593.5,946.0 C595.0,945.7 599.3,945.5 602.5,944.2 C605.7,942.8 609.8,940.3 612.7,937.8 C615.6,935.2 618.6,930.3 619.8,928.9" stroke="#4d5a3a" stroke-width="0.9" fill="none" stroke-linejoin="round" stroke-linecap="round" opacity="0.6"/>
<path d="M613.2,939.1 C612.5,943.1 611.3,954.2 608.9,963.3 C606.4,972.5 602.4,986.6 598.7,993.9 C595.0,1001.2 588.7,1005.0 586.7,1007.2" stroke="#4d5a3a" stroke-width="0.9" fill="none" stroke-linejoin="round" stroke-linecap="round" opacity="0.6"/>
<path d="M593.5,928.9 C594.7,923.2 596.7,920.4 599.4,918.9 C602.2,917.4 606.9,918.7 610.1,919.9 C613.4,921.2 618.4,923.1 619.1,926.3 C619.7,929.5 615.7,932.9 614.0,939.1 C612.3,945.2 611.4,954.2 608.9,963.3 C606.3,972.5 602.4,986.6 598.7,993.9 C595.0,1001.2 588.2,1008.9 586.7,1007.2 C585.1,1005.5 588.3,992.7 589.2,983.7 C590.1,974.7 591.6,962.2 592.3,953.1 C593.0,944.0 592.4,934.6 593.5,928.9Z" fill="#a3aec0" opacity="0.75" />
<polyline points="556.5,1027.1 671.4,963.3" stroke="#4d5a3a" stroke-width="1.0" fill="none" stroke-linejoin="round" stroke-linecap="round" opacity="0.55"/>
<polyline points="623.4,931.4 793.9,1029.7" stroke="#4d5a3a" stroke-width="1.0" fill="none" stroke-linejoin="round" stroke-linecap="round" opacity="0.6"/>
<polyline points="673.9,963.3 783.6,1024.5" stroke="#4d5a3a" stroke-width="1.0" fill="none" stroke-linejoin="round" stroke-linecap="round" opacity="0.4"/>
<polyline points="607.1,619.5 602.8,614.4 598.4,609.6 593.8,605.0 589.1,600.8 584.4,596.9 579.6,593.4 574.7,590.3 569.9,587.5 565.0,585.2 560.2,583.3 555.5,581.8 550.9,580.7 546.3,580.1 541.9,580.0 537.7,580.2 533.6,581.0 529.8,582.1 526.1,583.7 522.7,585.8 519.6,588.2 516.7,591.1 514.1,594.3 511.8,597.9 509.8,601.9 508.1,606.2 506.8,610.8 505.8,615.7 505.1,620.9 504.8,626.3 504.9,631.9 505.2,637.7 505.9,643.7 507.0,649.8 508.4,655.9 510.1,662.2 512.1,668.4 514.5,674.7 517.1,680.9" stroke="#4d5a3a" stroke-width="1.0" fill="none" stroke-linejoin="round" stroke-linecap="round" opacity="0.8"/>
<polyline points="609.9,648.1 608.1,643.5 606.0,639.0 603.7,634.6 601.2,630.2 598.6,625.9 595.8,621.8 592.9,617.8 589.8,614.0 586.6,610.4 583.4,607.0 580.0,603.8 576.5,600.8 573.1,598.1 569.5,595.6 566.0,593.4 562.5,591.5 558.9,589.9 555.5,588.6 552.0,587.6 548.6,586.9 545.4,586.6 542.2,586.5 539.1,586.8 536.2,587.4 533.4,588.3 530.8,589.5 528.3,591.0 526.0,592.8 523.9,595.0 522.1,597.3 520.4,600.0 519.0,602.9 517.7,606.0 516.8,609.4 516.0,613.0 515.5,616.7 515.3,620.7 515.3,624.8 515.5,629.0 516.0,633.3 516.8,637.7 517.7,642.2 519.0,646.8 520.4,651.4 522.1,655.9 523.9,660.5 526.0,665.0 528.3,669.4 530.8,673.8 533.4,678.1 536.2,682.2 539.1,686.2 542.2,690.0 545.4,693.6 548.6,697.0" stroke="#4d5a3a" stroke-width="1.0" fill="none" stroke-linejoin="round" stroke-linecap="round" opacity="0.8"/>
<polyline points="607.7,671.8 607.6,668.2 607.3,664.4 606.8,660.5 606.0,656.6 605.0,652.6 603.9,648.6 602.5,644.6 600.9,640.5 599.2,636.5 597.3,632.6 595.2,628.7 592.9,624.9 590.5,621.2 588.0,617.6 585.4,614.2 582.6,610.9 579.8,607.8 576.8,604.9 573.8,602.1 570.8,599.6 567.7,597.3 564.6,595.3 561.4,593.5 558.3,591.9 555.2,590.6 552.2,589.6 549.2,588.9 546.2,588.4 543.4,588.2 540.6,588.3 538.0,588.7 535.5,589.4 533.1,590.3 530.8,591.5 528.7,593.0 526.8,594.7 525.1,596.7 523.5,598.9 522.1,601.4 521.0,604.1 520.0,606.9 519.2,610.0 518.7,613.2 518.4,616.6 518.3,620.2 518.4,623.8 518.7,627.6 519.2,631.5 520.0,635.4 521.0,639.4 522.1,643.4 523.5,647.4 525.1,651.5 526.8,655.5 528.7,659.4 530.8,663.3 533.1,667.1 535.5,670.8 538.0,674.4 540.6,677.8 543.4,681.1 546.2,684.2 549.2,687.1 552.2,689.9 555.2,692.4 558.3,694.7 561.4,696.7 564.6,698.5 567.7,700.1 570.8,701.4 573.8,702.4 576.8,703.1 579.8,703.6 582.6,703.8 585.4,703.7 588.0,703.3 590.5,702.6 592.9,701.7 595.2,700.5 597.3,699.0 599.2,697.3 600.9,695.3 602.5,693.1 603.9,690.6 605.0,687.9 606.0,685.1 606.8,682.0 607.3,678.8 607.6,675.4 607.7,671.8" stroke="#4d5a3a" stroke-width="1.0" fill="none" stroke-linejoin="round" stroke-linecap="round" opacity="0.65"/>
<polyline points="451.0,694.5 452.8,700.8 455.0,707.0 457.4,713.2 460.1,719.4 463.1,725.5 466.4,731.5 469.9,737.4 473.6,743.1 477.5,748.6 481.6,753.9 485.9,759.0 490.4,763.7 494.9,768.2 499.6,772.4 504.4,776.2 509.2,779.6 514.0,782.7 518.8,785.4 523.6,787.7 528.4,789.5 533.1,791.0 537.7,792.0 542.2,792.5 546.6,792.6 550.8,792.3 554.8,791.5 558.7,790.3 562.3,788.7 565.6,786.7 568.8,784.2 571.6,781.3 574.2,778.1" stroke="#4d5a3a" stroke-width="1.0" fill="none" stroke-linejoin="round" stroke-linecap="round" opacity="0.7"/>
<polyline points="874.5,520.0 925.0,727.0" stroke="#4d5a3a" stroke-width="1.0" fill="none" stroke-linejoin="round" stroke-linecap="round" opacity="0.75"/>
<polyline points="941.9,532.0 994.9,734.5" stroke="#4d5a3a" stroke-width="1.0" fill="none" stroke-linejoin="round" stroke-linecap="round" opacity="0.75"/>
<polyline points="852.2,463.3 882.8,446.3" stroke="#4d5a3a" stroke-width="1.0" fill="none" stroke-linejoin="round" stroke-linecap="round" opacity="0.75"/>
<polyline points="882.8,446.3 958.8,617.5" stroke="#4d5a3a" stroke-width="1.0" fill="none" stroke-linejoin="round" stroke-linecap="round" opacity="0.6"/>
<polyline points="882.8,446.3 917.9,617.5" stroke="#4d5a3a" stroke-width="1.0" fill="none" stroke-linejoin="round" stroke-linecap="round" opacity="0.6"/>
<polyline points="917.9,617.5 940.0,730.0" stroke="#4d5a3a" stroke-width="1.0" fill="none" stroke-linejoin="round" stroke-linecap="round" opacity="0.5"/>
<polyline points="1043.2,505.8 1047.4,505.6 1051.4,504.9 1055.2,503.7 1058.9,502.2 1062.2,500.2 1065.4,497.8 1068.3,495.0 1070.9,491.8 1073.2,488.3 1075.2,484.4 1076.9,480.2 1078.2,475.7 1079.3,470.8 1080.0,465.7 1080.3,460.4 1080.4,454.9 1080.1,449.2 1079.4,443.3 1078.4,437.3 1077.1,431.2 1075.5,425.0 1073.6,418.8 1071.3,412.6 1068.8,406.4 1065.9,400.3 1062.8,394.3 1059.5,388.4 1055.9,382.6 1052.1,377.0 1048.1,371.6 1043.9,366.4 1039.6,361.5 1035.1,356.9 1030.6,352.6 1025.9,348.5 1021.1,344.9 1016.4,341.6 1011.5,338.7 1006.7,336.2 1002.0,334.0 997.2,332.3 992.6,331.1 988.0,330.2 983.6,329.8 979.3,329.8 975.2,330.3 971.2,331.2 967.5,332.5 964.0,334.3" stroke="#111" stroke-width="1.9" fill="none" stroke-linejoin="round" stroke-linecap="round" />
<polyline points="964.0,334.3 960.7,336.4 957.7,339.0 955.0,341.9 952.5,345.3 950.3,348.9 948.5,353.0 946.9,357.3 945.7,362.0 944.8,366.9 944.2,372.0 944.0,377.4 944.1,383.0 944.6,388.8 945.3,394.7 946.4,400.7 947.9,406.8 949.6,413.0 951.7,419.1 954.0,425.3 956.7,431.5 959.6,437.5 962.8,443.5 966.2,449.3 969.8,455.0 973.7,460.5 977.7,465.8 981.9,470.9 986.3,475.7 990.8,480.2 995.4,484.4 1000.1,488.3 1004.8,491.8 1009.6,495.0 1014.4,497.8 1019.2,500.2 1023.9,502.1 1028.6,503.7 1033.2,504.8 1037.7,505.6 1042.1,505.8 1046.3,505.7" stroke="#4d5a3a" stroke-width="1.3" fill="none" stroke-linejoin="round" stroke-linecap="round" opacity="0.9"/>
<polyline points="1059.9,445.4 1059.8,441.5 1059.5,437.4 1058.9,433.3 1058.1,429.1 1057.1,424.8 1055.8,420.6 1054.4,416.3 1052.7,412.0 1050.8,407.7 1048.8,403.5 1046.5,399.3 1044.1,395.3 1041.6,391.3 1038.9,387.5 1036.1,383.8 1033.1,380.3 1030.1,377.0 1027.0,373.9 1023.7,371.0 1020.5,368.3 1017.2,365.9 1013.9,363.7 1010.5,361.7 1007.2,360.1 1003.9,358.7 1000.7,357.6 997.4,356.9 994.3,356.4 991.3,356.2 988.3,356.3 985.5,356.7 982.8,357.4 980.3,358.4 977.9,359.7 975.6,361.3 973.6,363.1 971.7,365.2 970.0,367.6 968.6,370.2 967.3,373.0 966.3,376.1 965.5,379.4 964.9,382.8 964.6,386.5 964.5,390.2 964.6,394.1 964.9,398.2 965.5,402.3 966.3,406.5 967.3,410.8 968.6,415.0 970.0,419.3 971.7,423.6 973.6,427.9 975.6,432.1 977.9,436.3 980.3,440.3 982.8,444.3 985.5,448.1 988.3,451.8 991.3,455.3 994.3,458.6 997.4,461.7 1000.7,464.6 1003.9,467.3 1007.2,469.7 1010.5,471.9 1013.9,473.9 1017.2,475.5 1020.5,476.9 1023.7,478.0 1027.0,478.7 1030.1,479.2 1033.1,479.4 1036.1,479.3 1038.9,478.9 1041.6,478.2 1044.1,477.2 1046.5,475.9 1048.8,474.3 1050.8,472.5 1052.7,470.4 1054.4,468.0 1055.8,465.4 1057.1,462.6 1058.1,459.5 1058.9,456.2 1059.5,452.8 1059.8,449.1 1059.9,445.4" stroke="#4d5a3a" stroke-width="1.2" fill="none" stroke-linejoin="round" stroke-linecap="round" opacity="0.85"/>
<polyline points="1043.5,454.9 1043.4,451.0 1043.1,446.9 1042.5,442.8 1041.7,438.6 1040.7,434.3 1039.4,430.1 1038.0,425.8 1036.3,421.5 1034.4,417.2 1032.4,413.0 1030.1,408.8 1027.7,404.8 1025.2,400.8 1022.5,397.0 1019.7,393.3 1016.7,389.8 1013.7,386.5 1010.6,383.4 1007.3,380.5 1004.1,377.8 1000.8,375.4 997.5,373.2 994.1,371.2 990.8,369.6 987.5,368.2 984.3,367.1 981.0,366.4 977.9,365.9 974.9,365.7 971.9,365.8 969.1,366.2 966.4,366.9 963.9,367.9 961.5,369.2 959.2,370.8 957.2,372.6 955.3,374.7 953.6,377.1 952.2,379.7 950.9,382.5 949.9,385.6 949.1,388.9 948.5,392.3 948.2,396.0 948.1,399.7 948.2,403.6 948.5,407.7 949.1,411.8 949.9,416.0 950.9,420.3 952.2,424.5 953.6,428.8 955.3,433.1 957.2,437.4 959.2,441.6 961.5,445.8 963.9,449.8 966.4,453.8 969.1,457.6 971.9,461.3 974.9,464.8 977.9,468.1 981.0,471.2 984.3,474.1 987.5,476.8 990.8,479.2 994.1,481.4 997.5,483.4 1000.8,485.0 1004.1,486.4 1007.3,487.5 1010.6,488.2 1013.7,488.7 1016.7,488.9 1019.7,488.8 1022.5,488.4 1025.2,487.7 1027.7,486.7 1030.1,485.4 1032.4,483.8 1034.4,482.0 1036.3,479.9 1038.0,477.5 1039.4,474.9 1040.7,472.1 1041.7,469.0 1042.5,465.7 1043.1,462.3 1043.4,458.6 1043.5,454.9" stroke="#4d5a3a" stroke-width="1.1" fill="none" stroke-linejoin="round" stroke-linecap="round" opacity="0.8"/>
<polyline points="1039.1,452.3 1039.0,448.8 1038.7,445.1 1038.2,441.4 1037.4,437.6 1036.5,433.7 1035.4,429.8 1034.0,425.9 1032.5,422.0 1030.8,418.1 1029.0,414.3 1027.0,410.5 1024.8,406.9 1022.5,403.3 1020.0,399.8 1017.5,396.5 1014.8,393.3 1012.0,390.3 1009.2,387.5 1006.3,384.8 1003.3,382.4 1000.3,380.2 997.3,378.2 994.3,376.4 991.3,374.9 988.3,373.7 985.3,372.7 982.4,372.0 979.6,371.6 976.8,371.4 974.1,371.5 971.6,371.8 969.1,372.5 966.8,373.4 964.6,374.6 962.6,376.0 960.8,377.7 959.1,379.6 957.6,381.7 956.2,384.1 955.1,386.7 954.2,389.5 953.4,392.4 952.9,395.6 952.6,398.9 952.5,402.3 952.6,405.8 952.9,409.5 953.4,413.2 954.2,417.0 955.1,420.9 956.2,424.8 957.6,428.7 959.1,432.6 960.8,436.5 962.6,440.3 964.6,444.1 966.8,447.7 969.1,451.3 971.6,454.8 974.1,458.1 976.8,461.3 979.6,464.3 982.4,467.1 985.3,469.8 988.3,472.2 991.3,474.4 994.3,476.4 997.3,478.2 1000.3,479.7 1003.3,480.9 1006.3,481.9 1009.2,482.6 1012.0,483.0 1014.8,483.2 1017.5,483.1 1020.0,482.8 1022.5,482.1 1024.8,481.2 1027.0,480.0 1029.0,478.6 1030.8,476.9 1032.5,475.0 1034.0,472.9 1035.4,470.5 1036.5,467.9 1037.4,465.1 1038.2,462.2 1038.7,459.0 1039.0,455.7 1039.1,452.3" stroke="#4d5a3a" stroke-width="1.1" fill="none" stroke-linejoin="round" stroke-linecap="round" opacity="0.8"/>
<polyline points="974.8,538.6 970.1,536.6 965.3,534.2 960.5,531.5 955.7,528.3 951.0,524.8 946.3,520.9 941.7,516.7 937.2,512.2 932.8,507.4 928.6,502.3 924.5,497.0 920.6,491.5 917.0,485.8 913.6,479.9 910.4,473.9 907.5,467.9 904.8,461.7 902.5,455.5 900.4,449.3 898.7,443.1 897.2,437.0 896.1,431.0 895.3,425.1 894.9,419.3 894.8,413.7 895.0,408.3 895.6,403.2 896.5,398.2 897.8,393.6 899.3,389.3 901.2,385.2" stroke="#4d5a3a" stroke-width="1.0" fill="none" stroke-linejoin="round" stroke-linecap="round" opacity="0.6"/>
<polyline points="997.6,522.0 994.1,522.2 990.5,521.9 986.7,521.3 982.9,520.4 978.9,519.1 975.0,517.4 971.0,515.5 967.0,513.2 963.0,510.5 959.1,507.6 955.1,504.4 951.3,500.9 947.5,497.1 943.9,493.2 940.4,489.0 937.0,484.5 933.7,480.0 930.7,475.2 927.8,470.4 925.1,465.4 922.7,460.3 920.4,455.2 918.4,450.1 916.7,444.9 915.2,439.7 913.9,434.6 913.0,429.6 912.3,424.7 911.9,419.8 911.7,415.1 911.9,410.6 912.3,406.2 913.0,402.1 913.9,398.2 915.2,394.5" stroke="#4d5a3a" stroke-width="1.0" fill="none" stroke-linejoin="round" stroke-linecap="round" opacity="0.55"/>
<polyline points="981.8,970.9 985.3,973.0 988.5,975.3 991.5,977.8 994.1,980.3 996.4,982.9 998.4,985.6 1000.1,988.4 1001.4,991.3 1002.4,994.2 1003.0,997.1 1003.3,1000.1 1003.2,1003.0 1002.8,1006.0 1002.0,1008.9 1000.8,1011.8 999.3,1014.6 997.5,1017.3 995.3,1020.0 992.8,1022.6 990.0,1025.1 987.0,1027.4 983.6,1029.7 980.0,1031.8 976.1,1033.7 972.0,1035.5 967.8,1037.1 963.3,1038.5 958.6,1039.8 953.9,1040.8 949.0,1041.7 944.0,1042.3 938.9,1042.8 933.8,1043.1 928.7,1043.1 923.6,1043.0 918.5,1042.6 913.5,1042.0 908.6,1041.3 903.7,1040.3 899.0,1039.2 894.5,1037.8 890.1,1036.3 885.9,1034.6 881.9,1032.7 878.2,1030.7 874.7,1028.6 871.5,1026.3 868.5,1023.8 865.9,1021.3 863.6,1018.7 861.6,1016.0 859.9,1013.2 858.6,1010.3 857.6,1007.4 857.0,1004.5 856.7,1001.5 856.8,998.6 857.2,995.6 858.0,992.7 859.2,989.8 860.7,987.0 862.5,984.3 864.7,981.6 867.2,979.0 870.0,976.5 873.0,974.2 876.4,971.9 880.0,969.8 883.9,967.9 888.0,966.1 892.2,964.5 896.7,963.1 901.4,961.8 906.1,960.8 911.0,959.9 916.0,959.3 921.1,958.8 926.2,958.5 931.3,958.5 936.4,958.6 941.5,959.0 946.5,959.6 951.4,960.3 956.3,961.3 961.0,962.4 965.5,963.8 969.9,965.3 974.1,967.0 978.1,968.9 981.8,970.9" stroke="#4d5a3a" stroke-width="1.0" fill="none" stroke-linejoin="round" stroke-linecap="round" opacity="0.7"/>
<polyline points="783.4,931.5 783.8,925.6 784.8,919.7 786.6,913.9 789.1,908.2 792.2,902.6 796.1,897.1 800.6,891.8 805.7,886.6 811.4,881.7 817.7,877.1 824.5,872.7 831.9,868.6 839.7,864.8 848.0,861.3 856.7,858.2 865.7,855.4 875.1,853.0 884.7,851.0 894.5,849.4 904.5,848.1 914.7,847.3 924.9,846.9 935.1,846.9 945.3,847.3 955.5,848.1 965.5,849.4 975.3,851.0 984.9,853.0 994.3,855.4 1003.3,858.2 1012.0,861.3 1020.3,864.8 1028.1,868.6 1035.5,872.7 1042.3,877.1 1048.6,881.7 1054.3,886.6 1059.4,891.8 1063.9,897.1 1067.8,902.6 1070.9,908.2 1073.4,913.9 1075.2,919.7 1076.2,925.6 1076.6,931.5" stroke="#4d5a3a" stroke-width="1.0" fill="none" stroke-linejoin="round" stroke-linecap="round" opacity="0.55"/>
<polyline points="856.7,842.0 856.7,1000.0" stroke="#4d5a3a" stroke-width="1.0" fill="none" stroke-linejoin="round" stroke-linecap="round" opacity="0.25"/>
<polyline points="1003.3,842.0 1003.3,1000.0" stroke="#4d5a3a" stroke-width="1.0" fill="none" stroke-linejoin="round" stroke-linecap="round" opacity="0.35"/>
<polyline points="930.0,870.0 930.0,1070.0" stroke="#4d5a3a" stroke-width="1.0" fill="none" stroke-linejoin="round" stroke-linecap="round" opacity="0.2"/>
<polyline points="1143.8,865.0 1182.0,887.3" stroke="#4d5a3a" stroke-width="1.2" fill="none" stroke-linejoin="round" stroke-linecap="round" opacity="0.8"/>
<polyline points="1058.5,925.2 1127.6,887.1" stroke="#4d5a3a" stroke-width="1.0" fill="none" stroke-linejoin="round" stroke-linecap="round" opacity="0.7"/>
<polyline points="766.0,1115.0 890.0,1046.0" stroke="#4d5a3a" stroke-width="1.0" fill="none" stroke-linejoin="round" stroke-linecap="round" opacity="0.0"/>
</g>
<polyline points="915.0,1071.5 923.6,1072.0 932.3,1072.1 941.0,1071.8 949.7,1071.2 958.2,1070.2 966.6,1068.9 974.8,1067.2 982.8,1065.2 990.6,1062.9 998.0,1060.3 1005.1,1057.4 1011.8,1054.2 1018.1,1050.7 1024.0,1047.0 1029.4,1043.1 1034.3,1038.9 1038.7,1034.6 1042.6,1030.1 1045.9,1025.4 1048.6,1020.6 1050.7,1015.8 1052.2,1010.8 1053.1,1005.8 1053.5,1000.8" stroke="#111" stroke-width="1.9" fill="none" stroke-linejoin="round" stroke-linecap="round" opacity="0.95"/>
<polyline points="556.0,1044.5 733.0,1146.5 741.0,1150.5 750.0,1151.5 759.0,1148.0 766.0,1143.5 893.0,1074.5 899.0,1072.3 905.0,1072.6" stroke="#111" stroke-width="1.9" fill="none" stroke-linejoin="round" stroke-linecap="round" opacity="0.95"/>
<polyline points="1058.5,975.7 1180.0,908.0 1186.0,903.5 1188.9,897.0 1189.0,833.0" stroke="#111" stroke-width="1.8" fill="none" stroke-linejoin="round" stroke-linecap="round" opacity="0.95"/>
<polyline points="1190.5,829.0 1056.0,522.0 1045.0,500.0" stroke="#8d9a86" stroke-width="2.2" fill="none" stroke-linejoin="round" stroke-linecap="round" opacity="0.8"/>
<polyline points="607.5,638.0 719.0,881.5" stroke="#8d9a86" stroke-width="2.0" fill="none" stroke-linejoin="round" stroke-linecap="round" opacity="0.7"/>
<polyline points="496.5,826.0 551.0,1040.0" stroke="#8f9ab0" stroke-width="3.0" fill="none" stroke-linejoin="round" stroke-linecap="round" opacity="0.8"/>
<polyline points="846.5,471.0 862.0,521.0 916.0,726.0" stroke="#8f9ab0" stroke-width="3.0" fill="none" stroke-linejoin="round" stroke-linecap="round" opacity="0.8"/>
<polyline points="534.2,772.4 534.0,766.8 533.5,761.0 532.7,755.1 531.6,749.1 530.1,743.1 528.3,736.9 526.2,730.8 523.8,724.7 521.2,718.6 518.2,712.5 515.1,706.6 511.6,700.8 508.0,695.2 504.1,689.7 500.1,684.5 495.9,679.5 491.5,674.7 487.1,670.3 482.5,666.1 477.8,662.3 473.1,658.8 468.4,655.7 463.6,652.9 458.9,650.6 454.2,648.6 449.5,647.1 444.9,645.9 440.5,645.2 436.1,645.0 431.9,645.1 427.9,645.7 424.0,646.7 420.4,648.1 416.9,650.0 413.8,652.2 410.8,654.9 408.2,657.9 405.8,661.3 403.7,665.0 401.9,669.1 400.4,673.4 399.3,678.1 398.5,683.0 398.0,688.2 397.8,693.6 398.0,699.2 398.5,705.0 399.3,710.9 400.4,716.9 401.9,722.9 403.7,729.1 405.8,735.2 408.2,741.3 410.8,747.4 413.8,753.5 416.9,759.4 420.4,765.2 424.0,770.8 427.9,776.3 431.9,781.5 436.1,786.5 440.5,791.3 444.9,795.7 449.5,799.9 454.2,803.7 458.9,807.2 463.6,810.3 468.4,813.1 473.1,815.4 477.8,817.4 482.5,818.9 487.1,820.1 491.5,820.8 495.9,821.0 500.1,820.9 504.1,820.3 508.0,819.3 511.6,817.9 515.1,816.0 518.2,813.8 521.2,811.1 523.8,808.1 526.2,804.7 528.3,801.0 530.1,796.9 531.6,792.6 532.7,787.9 533.5,783.0 534.0,777.8 534.2,772.4" stroke="#0c0c0c" stroke-width="2.3" fill="none" stroke-linejoin="round" stroke-linecap="round" />
<polyline points="513.7,760.6 513.6,756.7 513.3,752.6 512.7,748.5 511.9,744.3 510.9,740.0 509.6,735.8 508.2,731.5 506.5,727.2 504.6,722.9 502.6,718.7 500.3,714.5 497.9,710.5 495.4,706.5 492.7,702.7 489.9,699.0 486.9,695.5 483.9,692.2 480.8,689.1 477.5,686.2 474.3,683.5 471.0,681.1 467.7,678.9 464.3,676.9 461.0,675.3 457.7,673.9 454.5,672.8 451.2,672.1 448.1,671.6 445.1,671.4 442.1,671.5 439.3,671.9 436.6,672.6 434.1,673.6 431.7,674.9 429.4,676.5 427.4,678.3 425.5,680.4 423.8,682.8 422.4,685.4 421.1,688.2 420.1,691.3 419.3,694.6 418.7,698.0 418.4,701.7 418.3,705.4 418.4,709.3 418.7,713.4 419.3,717.5 420.1,721.7 421.1,726.0 422.4,730.2 423.8,734.5 425.5,738.8 427.4,743.1 429.4,747.3 431.7,751.5 434.1,755.5 436.6,759.5 439.3,763.3 442.1,767.0 445.1,770.5 448.1,773.8 451.2,776.9 454.5,779.8 457.7,782.5 461.0,784.9 464.3,787.1 467.7,789.1 471.0,790.7 474.3,792.1 477.5,793.2 480.8,793.9 483.9,794.4 486.9,794.6 489.9,794.5 492.7,794.1 495.4,793.4 497.9,792.4 500.3,791.1 502.6,789.5 504.6,787.7 506.5,785.6 508.2,783.2 509.6,780.6 510.9,777.8 511.9,774.7 512.7,771.4 513.3,768.0 513.6,764.3 513.7,760.6" stroke="#0c0c0c" stroke-width="2.1999999999999997" fill="none" stroke-linejoin="round" stroke-linecap="round" />
<clipPath id="cpLB"><polygon points="513.7,760.6 513.6,756.7 513.3,752.6 512.7,748.5 511.9,744.3 510.9,740.0 509.6,735.8 508.2,731.5 506.5,727.2 504.6,722.9 502.6,718.7 500.3,714.5 497.9,710.5 495.4,706.5 492.7,702.7 489.9,699.0 486.9,695.5 483.9,692.2 480.8,689.1 477.5,686.2 474.3,683.5 471.0,681.1 467.7,678.9 464.3,676.9 461.0,675.3 457.7,673.9 454.5,672.8 451.2,672.1 448.1,671.6 445.1,671.4 442.1,671.5 439.3,671.9 436.6,672.6 434.1,673.6 431.7,674.9 429.4,676.5 427.4,678.3 425.5,680.4 423.8,682.8 422.4,685.4 421.1,688.2 420.1,691.3 419.3,694.6 418.7,698.0 418.4,701.7 418.3,705.4 418.4,709.3 418.7,713.4 419.3,717.5 420.1,721.7 421.1,726.0 422.4,730.2 423.8,734.5 425.5,738.8 427.4,743.1 429.4,747.3 431.7,751.5 434.1,755.5 436.6,759.5 439.3,763.3 442.1,767.0 445.1,770.5 448.1,773.8 451.2,776.9 454.5,779.8 457.7,782.5 461.0,784.9 464.3,787.1 467.7,789.1 471.0,790.7 474.3,792.1 477.5,793.2 480.8,793.9 483.9,794.4 486.9,794.6 489.9,794.5 492.7,794.1 495.4,793.4 497.9,792.4 500.3,791.1 502.6,789.5 504.6,787.7 506.5,785.6 508.2,783.2 509.6,780.6 510.9,777.8 511.9,774.7 512.7,771.4 513.3,768.0 513.6,764.3 513.7,760.6"/></clipPath>
<g clip-path="url(#cpLB)">
<polyline points="441.1,672.1 439.5,674.6 438.1,677.3 437.0,680.3 436.1,683.4 435.4,686.8 434.9,690.3 434.7,694.0 434.7,697.9 434.9,701.9 435.4,705.9 436.1,710.1 437.0,714.3 438.1,718.6 439.5,722.9 441.1,727.2 442.8,731.5 444.8,735.7 446.9,739.9 449.2,744.0 451.7,748.0 454.3,751.9 457.1,755.6 460.0,759.2 463.0,762.6 466.1,765.9 469.2,768.9 472.5,771.7 475.8,774.3 479.1,776.6 482.4,778.6 485.7,780.4 489.0,781.9 492.3,783.2 495.6,784.1 498.7,784.7 501.8,785.1 504.8,785.1 507.7,784.9 510.5,784.3 513.1,783.4 515.6,782.3 517.9,780.9 520.0,779.2 522.0,777.2 523.7,774.9" stroke="#0c0c0c" stroke-width="1.6" fill="none" stroke-linejoin="round" stroke-linecap="round" />
<polyline points="449.2,672.2 447.3,673.9 445.6,675.8 444.1,678.0 442.7,680.5 441.6,683.1 440.7,685.9 440.0,689.0 439.4,692.2 439.2,695.5 439.1,699.0 439.2,702.7 439.6,706.4 440.2,710.2 440.9,714.1 441.9,718.0 443.1,722.0 444.5,725.9 446.1,729.9 447.9,733.8 449.8,737.7 451.9,741.5 454.2,745.2 456.6,748.8 459.1,752.2 461.8,755.6 464.5,758.7 467.4,761.7 470.3,764.5 473.3,767.1 476.3,769.5 479.3,771.6 482.4,773.5 485.5,775.2 488.5,776.6 491.5,777.7 494.5,778.5 497.4,779.1 500.3,779.4 503.0,779.4 505.7,779.1 508.2,778.6 510.6,777.8 512.9,776.7 515.0,775.3 516.9,773.7 518.7,771.8 520.3,769.7 521.7,767.3" stroke="#0c0c0c" stroke-width="1.9000000000000001" fill="none" stroke-linejoin="round" stroke-linecap="round" />
</g>
<polyline points="511.0,594.0 515.8,592.3 534.6,590.1 552.0,594.0 569.9,602.3 590.0,616.0 605.1,635.0 607.5,638.0" stroke="#0c0c0c" stroke-width="2.3" fill="none" stroke-linejoin="round" stroke-linecap="round" />
<polyline points="620.4,661.1 588.7,684.6" stroke="#0c0c0c" stroke-width="1.9000000000000001" fill="none" stroke-linejoin="round" stroke-linecap="round" />
<polyline points="588.7,684.6 594.6,778.7" stroke="#0c0c0c" stroke-width="1.8" fill="none" stroke-linejoin="round" stroke-linecap="round" />
<path d="M588.7,684.6 C587.8,689.2 585.6,701.1 583.0,712.0 C580.4,722.9 577.1,736.1 573.0,750.0 C568.9,763.9 560.6,787.7 558.1,795.2" stroke="#111" stroke-width="1.7" fill="none" stroke-linejoin="round" stroke-linecap="round" />
<path d="M532.3,809.3 C534.4,810.0 540.7,812.7 545.0,813.5 C549.3,814.3 553.8,814.4 558.1,814.0 C562.4,813.6 567.1,812.6 571.0,811.0 C574.9,809.4 578.4,807.3 581.6,804.6 C584.8,801.9 587.6,798.9 590.0,795.0 C592.4,791.1 594.8,783.3 595.7,781.0" stroke="#111" stroke-width="1.7" fill="none" stroke-linejoin="round" stroke-linecap="round" />
<path d="M562.8,776.3 C563.8,775.8 566.6,774.1 569.0,773.5 C571.4,772.9 574.1,772.6 576.9,772.8 C579.7,773.0 583.0,773.5 586.0,774.5 C589.0,775.5 593.2,778.0 594.6,778.7" stroke="#111" stroke-width="1.5" fill="none" stroke-linejoin="round" stroke-linecap="round" />
<polyline points="499.1,824.2 554.0,1042.4" stroke="#0c0c0c" stroke-width="1.9000000000000001" fill="none" stroke-linejoin="round" stroke-linecap="round" />
<polyline points="594.6,778.7 732.6,1080.7" stroke="#0c0c0c" stroke-width="1.8" fill="none" stroke-linejoin="round" stroke-linecap="round" />
<polyline points="588.7,684.6 765.8,1076.9" stroke="#0c0c0c" stroke-width="1.8" fill="none" stroke-linejoin="round" stroke-linecap="round" />
<polyline points="607.5,638.0 799.0,1055.2" stroke="#0c0c0c" stroke-width="1.8" fill="none" stroke-linejoin="round" stroke-linecap="round" />
<polyline points="620.4,661.1 793.9,1060.3" stroke="#0c0c0c" stroke-width="1.6" fill="none" stroke-linejoin="round" stroke-linecap="round" />
<polyline points="556.0,1044.5 733.0,1146.5" stroke="#0c0c0c" stroke-width="1.8" fill="none" stroke-linejoin="round" stroke-linecap="round" />
<path d="M732.6,1080.7 C734.2,1081.2 738.4,1083.6 742.0,1084.0 C745.6,1084.4 750.0,1084.0 754.0,1083.0 C758.0,1082.0 763.8,1078.6 765.7,1077.7" stroke="#111" stroke-width="1.8" fill="none" stroke-linejoin="round" stroke-linecap="round" />
<polyline points="733.2,1081.5 733.2,1146.5" stroke="#0c0c0c" stroke-width="1.7" fill="none" stroke-linejoin="round" stroke-linecap="round" />
<polyline points="765.7,1077.7 765.7,1143.5" stroke="#0c0c0c" stroke-width="1.7" fill="none" stroke-linejoin="round" stroke-linecap="round" />
<polyline points="765.7,1077.7 792.3,1061.8" stroke="#0c0c0c" stroke-width="1.8" fill="none" stroke-linejoin="round" stroke-linecap="round" />
<path d="M792.3,1061.8 C793.4,1061.5 796.4,1060.3 799.0,1060.2 C801.6,1060.1 804.5,1060.2 808.0,1061.0 C811.5,1061.8 818.0,1064.3 820.0,1065.0" stroke="#111" stroke-width="1.7" fill="none" stroke-linejoin="round" stroke-linecap="round" />
<polyline points="820.0,1065.0 890.1,1024.6" stroke="#0c0c0c" stroke-width="1.8" fill="none" stroke-linejoin="round" stroke-linecap="round" />
<path d="M783.8,1016.0 C784.5,1017.3 786.0,1021.7 788.0,1024.0 C790.0,1026.3 792.8,1028.5 796.0,1030.0 C799.2,1031.5 805.3,1032.6 807.2,1033.1" stroke="#111" stroke-width="1.6" fill="none" stroke-linejoin="round" stroke-linecap="round" />
<path d="M807.2,1033.1 C807.3,1035.9 806.7,1045.5 807.8,1050.1 C808.9,1054.7 811.6,1058.2 813.6,1060.7 C815.6,1063.2 818.9,1064.3 820.0,1065.0" stroke="#111" stroke-width="1.7" fill="none" stroke-linejoin="round" stroke-linecap="round" />
<path d="M787.0,1030.0 C787.8,1032.5 790.0,1040.5 792.0,1045.0 C794.0,1049.5 797.8,1055.0 799.0,1057.0" stroke="#111" stroke-width="1.3" fill="none" stroke-linejoin="round" stroke-linecap="round" />
<polyline points="807.2,1033.1 858.2,1005.5" stroke="#0c0c0c" stroke-width="1.9000000000000001" fill="none" stroke-linejoin="round" stroke-linecap="round" />
<polyline points="722.4,880.4 806.6,833.2" stroke="#0c0c0c" stroke-width="2.3" fill="none" stroke-linejoin="round" stroke-linecap="round" />
<polyline points="1017.3,748.9 1023.2,752.5 1028.6,756.4 1033.5,760.5 1038.0,764.7 1041.9,769.2 1045.3,773.8 1048.1,778.5 1050.3,783.3 1051.9,788.1 1053.0,793.1 1053.4,798.1 1053.3,803.0 1052.5,808.0 1051.2,812.9 1049.2,817.7 1046.7,822.5 1043.6,827.1 1040.0,831.7 1035.8,836.0 1031.1,840.2 1025.9,844.2 1020.3,847.9 1014.2,851.4 1007.7,854.7 1000.8,857.7 993.6,860.4 986.0,862.8 978.2,864.9 970.2,866.7 962.0,868.1 953.6,869.3 945.0,870.0 936.5,870.5 927.8,870.6 919.2,870.3 910.7,869.7 902.2,868.7 893.9,867.5 885.8,865.8 877.8,863.9 870.1,861.6 862.8,859.1 855.7,856.2 849.0,853.1 842.7,849.7 836.8,846.1 831.4,842.2 826.5,838.1 822.0,833.9 818.1,829.4 814.7,824.8 811.9,820.1 809.7,815.3 808.1,810.5 807.0,805.5 806.6,800.5 806.7,795.6 807.5,790.6 808.8,785.7 810.8,780.9 813.3,776.1 816.4,771.5 820.0,766.9 824.2,762.6 828.9,758.4 834.1,754.4 839.7,750.7 845.8,747.2 852.3,743.9 859.2,740.9 866.4,738.2 874.0,735.8 881.8,733.7 889.8,731.9 898.0,730.5 906.4,729.3 915.0,728.6 923.5,728.1 932.2,728.0 940.8,728.3 949.3,728.9 957.8,729.9 966.1,731.1 974.2,732.8 982.2,734.7 989.9,737.0 997.2,739.5 1004.3,742.4 1011.0,745.5 1017.3,748.9" stroke="#0c0c0c" stroke-width="2.3" fill="none" stroke-linejoin="round" stroke-linecap="round" />
<polyline points="981.8,769.4 985.3,771.5 988.5,773.8 991.5,776.3 994.1,778.8 996.4,781.4 998.4,784.1 1000.1,786.9 1001.4,789.8 1002.4,792.7 1003.0,795.6 1003.3,798.6 1003.2,801.5 1002.8,804.5 1002.0,807.4 1000.8,810.3 999.3,813.1 997.5,815.8 995.3,818.5 992.8,821.1 990.0,823.6 987.0,825.9 983.6,828.2 980.0,830.3 976.1,832.2 972.0,834.0 967.8,835.6 963.3,837.0 958.6,838.3 953.9,839.3 949.0,840.2 944.0,840.8 938.9,841.3 933.8,841.6 928.7,841.6 923.6,841.5 918.5,841.1 913.5,840.5 908.6,839.8 903.7,838.8 899.0,837.7 894.5,836.3 890.1,834.8 885.9,833.1 881.9,831.2 878.2,829.2 874.7,827.1 871.5,824.8 868.5,822.3 865.9,819.8 863.6,817.2 861.6,814.5 859.9,811.7 858.6,808.8 857.6,805.9 857.0,803.0 856.7,800.0 856.8,797.1 857.2,794.1 858.0,791.2 859.2,788.3 860.7,785.5 862.5,782.8 864.7,780.1 867.2,777.5 870.0,775.0 873.0,772.7 876.4,770.4 880.0,768.3 883.9,766.4 888.0,764.6 892.2,763.0 896.7,761.6 901.4,760.3 906.1,759.3 911.0,758.4 916.0,757.8 921.1,757.3 926.2,757.0 931.3,757.0 936.4,757.1 941.5,757.5 946.5,758.1 951.4,758.8 956.3,759.8 961.0,760.9 965.5,762.3 969.9,763.8 974.1,765.5 978.1,767.4 981.8,769.4" stroke="#0c0c0c" stroke-width="2.1999999999999997" fill="none" stroke-linejoin="round" stroke-linecap="round" />
<polyline points="806.4,799.3 806.4,912.6" stroke="#0c0c0c" stroke-width="1.9000000000000001" fill="none" stroke-linejoin="round" stroke-linecap="round" />
<polyline points="1053.4,799.3 1053.4,1001.0" stroke="#0c0c0c" stroke-width="1.9000000000000001" fill="none" stroke-linejoin="round" stroke-linecap="round" />
<path d="M812.9,880.6 C812.4,880.9 811.0,882.0 810.1,882.8 C809.2,883.5 808.3,884.3 807.4,885.1 C806.5,885.8 805.7,886.6 804.9,887.4 C804.0,888.2 803.2,889.0 802.4,889.8 C801.7,890.6 800.9,891.4 800.2,892.2 C799.4,893.0 798.7,893.8 798.0,894.7 C797.3,895.5 796.6,896.3 796.0,897.2 C795.4,898.0 794.7,898.9 794.1,899.7 C793.5,900.6 793.0,901.4 792.4,902.3 C791.9,903.1 791.3,904.0 790.8,904.9 C790.3,905.7 789.9,906.6 789.4,907.5 C789.0,908.4 788.5,909.3 788.1,910.2 C787.7,911.1 787.4,911.9 787.0,912.8 C786.7,913.7 786.3,914.6 786.0,915.5 C785.7,916.4 785.5,917.4 785.2,918.3 C785.0,919.2 784.7,920.1 784.5,921.0 C784.3,921.9 784.2,922.8 784.0,923.7 C783.9,924.6 783.7,925.6 783.7,926.5 C783.6,927.4 783.5,928.3 783.4,929.2 C783.4,930.2 783.4,931.1 783.4,932.0 C783.4,932.9 783.4,933.8 783.5,934.7 C783.6,935.7 783.7,936.6 783.8,937.5 C783.9,938.4 784.0,939.3 784.2,940.2 C784.3,941.2 784.5,942.1 784.8,943.0 C785.0,943.9 785.2,944.8 785.5,945.7 C785.7,946.6 786.0,947.5 786.4,948.4 C786.7,949.3 787.0,950.2 787.4,951.1 C787.8,952.0 788.2,952.9 788.6,953.8 C789.0,954.7 789.4,955.6 789.9,956.4 C790.4,957.3 790.9,958.2 791.4,959.1 C791.9,959.9 792.4,960.8 793.0,961.6 C793.6,962.5 794.2,963.4 794.8,964.2 C795.4,965.1 796.0,965.9 796.7,966.7 C797.4,967.6 798.1,968.4 798.8,969.2 C799.5,970.0 800.2,970.9 801.0,971.7 C801.7,972.5 802.5,973.3 803.3,974.1 C804.1,974.9 804.9,975.7 805.8,976.4 C806.6,977.2 807.5,978.0 808.4,978.7 C809.3,979.5 810.2,980.3 811.1,981.0 C812.0,981.8 813.0,982.5 814.0,983.2 C814.9,983.9 815.9,984.7 816.9,985.4 C817.9,986.1 819.0,986.8 820.0,987.5 C821.1,988.2 822.2,988.8 823.2,989.5 C824.3,990.2 825.4,990.8 826.6,991.5 C827.7,992.1 828.9,992.8 830.0,993.4 C831.2,994.0 832.4,994.6 833.6,995.2 C834.8,995.9 836.0,996.4 837.2,997.0 C838.4,997.6 839.7,998.2 841.0,998.7 C842.2,999.3 843.5,999.8 844.8,1000.4 C846.1,1000.9 847.4,1001.4 848.7,1001.9 C850.1,1002.5 851.4,1003.0 852.7,1003.4 C854.1,1003.9 855.5,1004.4 856.8,1004.9 C858.2,1005.3 857.8,1005.2 861.0,1006.2 C864.2,1007.2 871.2,1009.4 876.0,1011.0 C880.8,1012.6 885.8,1014.7 890.0,1016.0 C894.2,1017.3 897.6,1018.3 901.0,1019.0 C904.4,1019.7 908.8,1020.1 910.3,1020.3" stroke="#111" stroke-width="2.0" fill="none" stroke-linejoin="round" stroke-linecap="round" />
<path d="M806.5,912.6 C806.6,913.0 806.6,914.2 806.6,914.9 C806.7,915.7 806.7,916.5 806.8,917.3 C806.9,918.0 807.0,918.8 807.1,919.6 C807.3,920.4 807.4,921.1 807.6,921.9 C807.8,922.7 808.0,923.4 808.2,924.2 C808.4,925.0 808.7,925.7 808.9,926.5 C809.2,927.3 809.5,928.0 809.8,928.8 C810.1,929.5 810.4,930.3 810.8,931.0 C811.1,931.8 811.5,932.5 811.9,933.3 C812.3,934.0 812.7,934.8 813.1,935.5 C813.5,936.2 814.0,937.0 814.5,937.7 C814.9,938.4 815.4,939.2 815.9,939.9 C816.5,940.6 817.0,941.3 817.5,942.0 C818.1,942.7 818.7,943.4 819.3,944.1 C819.9,944.8 820.5,945.5 821.1,946.2 C821.8,946.9 822.4,947.6 823.1,948.2 C823.8,948.9 824.5,949.6 825.2,950.2 C825.9,950.9 826.6,951.6 827.4,952.2 C828.1,952.8 828.9,953.5 829.6,954.1 C830.4,954.7 831.2,955.4 832.1,956.0 C832.9,956.6 833.7,957.2 834.6,957.8 C835.4,958.4 836.3,959.0 837.2,959.6 C838.1,960.2 839.0,960.8 839.9,961.3 C840.8,961.9 841.8,962.5 842.7,963.0 C843.7,963.5 844.6,964.1 845.6,964.6 C846.6,965.2 847.6,965.7 848.6,966.2 C849.6,966.7 850.6,967.2 851.7,967.7 C852.7,968.2 853.8,968.7 854.8,969.1 C855.9,969.6 857.0,970.1 858.1,970.5 C859.2,971.0 860.3,971.4 861.4,971.9 C862.5,972.3 861.0,970.9 864.8,973.1 C868.6,975.3 878.0,980.7 884.0,985.0 C890.0,989.3 896.7,994.9 900.7,999.1 C904.7,1003.3 906.4,1006.5 908.0,1010.0 C909.6,1013.5 909.9,1018.6 910.3,1020.3" stroke="#111" stroke-width="2.0" fill="none" stroke-linejoin="round" stroke-linecap="round" />
<polyline points="890.1,1024.6 890.1,1073.5" stroke="#0c0c0c" stroke-width="1.8" fill="none" stroke-linejoin="round" stroke-linecap="round" />
<polyline points="910.3,1020.3 910.3,1072.4" stroke="#0c0c0c" stroke-width="1.8" fill="none" stroke-linejoin="round" stroke-linecap="round" />
<polyline points="1053.2,832.1 1104.6,862.3" stroke="#0c0c0c" stroke-width="1.9000000000000001" fill="none" stroke-linejoin="round" stroke-linecap="round" />
<polyline points="1058.5,888.9 1104.6,862.3" stroke="#0c0c0c" stroke-width="1.9000000000000001" fill="none" stroke-linejoin="round" stroke-linecap="round" />
<path d="M1104.6,862.3 C1106.7,862.2 1113.2,861.3 1117.0,861.9 C1120.8,862.5 1125.0,863.7 1127.6,865.8 C1130.2,867.9 1132.1,871.6 1132.6,874.7 C1133.0,877.8 1131.1,882.3 1130.3,884.4 C1129.5,886.5 1128.0,886.6 1127.6,887.1" stroke="#111" stroke-width="1.8" fill="none" stroke-linejoin="round" stroke-linecap="round" />
<path d="M1053.2,794.9 C1062.0,799.6 1092.7,814.7 1106.3,823.3 C1119.9,831.9 1128.5,839.5 1134.7,846.3 C1140.9,853.1 1142.6,858.7 1143.5,864.0 C1144.4,869.3 1142.7,874.1 1140.0,878.0 C1137.3,881.9 1129.7,885.6 1127.6,887.1" stroke="#111" stroke-width="1.9000000000000001" fill="none" stroke-linejoin="round" stroke-linecap="round" />
<polyline points="1147.1,853.4 1182.5,836.6" stroke="#0c0c0c" stroke-width="1.8" fill="none" stroke-linejoin="round" stroke-linecap="round" />
<path d="M1147.1,853.4 C1146.7,854.2 1145.1,856.2 1144.5,858.0 C1143.9,859.8 1143.7,863.0 1143.5,864.0" stroke="#111" stroke-width="1.6" fill="none" stroke-linejoin="round" stroke-linecap="round" />
<polyline points="1182.5,836.6 1182.5,906.6" stroke="#0c0c0c" stroke-width="1.6" fill="none" stroke-linejoin="round" stroke-linecap="round" />
<polyline points="1058.5,888.9 1058.5,975.7" stroke="#0c0c0c" stroke-width="1.8" fill="none" stroke-linejoin="round" stroke-linecap="round" />
<path d="M1053.4,880.0 C1053.5,881.0 1053.2,884.5 1054.0,886.0 C1054.8,887.5 1057.8,888.4 1058.5,888.9" stroke="#111" stroke-width="1.6" fill="none" stroke-linejoin="round" stroke-linecap="round" />
<path d="M1104.6,825.1 C1104.9,826.9 1107.2,831.9 1106.3,835.7 C1105.4,839.5 1101.8,845.2 1099.2,848.1 C1096.6,851.0 1091.9,852.5 1090.4,853.4" stroke="#111" stroke-width="1.7" fill="none" stroke-linejoin="round" stroke-linecap="round" />
<path d="M1117.0,835.7 C1116.7,838.1 1116.7,845.5 1115.2,849.9 C1113.7,854.3 1109.3,860.2 1108.1,862.3" stroke="#111" stroke-width="1.7" fill="none" stroke-linejoin="round" stroke-linecap="round" />
<polyline points="849.0,468.5 864.8,520.0 919.0,726.0" stroke="#0c0c0c" stroke-width="1.9000000000000001" fill="none" stroke-linejoin="round" stroke-linecap="round" />
<polyline points="945.0,459.0 1104.6,825.1" stroke="#0c0c0c" stroke-width="1.9000000000000001" fill="none" stroke-linejoin="round" stroke-linecap="round" />
<polyline points="976.0,462.0 1154.2,851.6" stroke="#0c0c0c" stroke-width="1.8" fill="none" stroke-linejoin="round" stroke-linecap="round" />
<polyline points="1035.5,501.0 1179.0,826.8" stroke="#0c0c0c" stroke-width="1.7" fill="none" stroke-linejoin="round" stroke-linecap="round" />
<polyline points="1041.5,501.0 1183.4,825.1" stroke="#0c0c0c" stroke-width="1.5" fill="none" stroke-linejoin="round" stroke-linecap="round" />
<polyline points="984.3,484.4 982.6,478.2 980.6,472.0 978.4,465.8 975.8,459.6 973.0,453.5 969.9,447.5 966.5,441.5 962.9,435.8 959.1,430.2 955.1,424.8 950.9,419.6 946.5,414.7 942.0,410.1 937.5,405.8 932.8,401.8 928.0,398.2 923.2,394.9 918.4,392.0 913.6,389.5 908.8,387.4 904.1,385.7 899.4,384.5 894.9,383.7 890.5,383.3 886.2,383.3 882.0,383.8 878.1,384.8 874.4,386.2 870.9,387.9 867.6,390.2 864.6,392.8 861.9,395.8 859.4,399.2 857.3,402.9 855.5,407.0 853.9,411.4 852.8,416.1 851.9,421.1 851.4,426.3 851.2,431.7 851.4,437.4 851.9,443.2 852.7,449.2 849.5,462.0 849.0,468.5" stroke="#0c0c0c" stroke-width="2.3" fill="none" stroke-linejoin="round" stroke-linecap="round" />
<polyline points="854.3,473.1 853.2,468.5 852.3,463.9 851.7,459.4 851.3,455.0 851.2,450.8 851.3,446.7 851.7,442.7 852.3,439.0 853.2,435.4 854.3,432.1 855.7,429.0 857.3,426.1 859.2,423.6 861.2,421.3 863.5,419.3 865.9,417.6 868.5,416.2 871.3,415.1 874.3,414.4 877.4,414.0 880.6,413.9 883.9,414.1 887.3,414.7 890.8,415.6 894.4,416.8 898.0,418.3 901.6,420.2 905.3,422.3 908.9,424.7 912.5,427.4 916.0,430.4 919.5,433.6 922.9,437.0 926.2,440.7 929.4,444.5 932.5,448.6 935.4,452.8 938.1,457.1 940.7,461.5 943.1,466.1 945.3,470.7 947.3,475.3 949.1,480.0 950.6,484.7 951.9,489.4 953.0,494.0 953.9,498.6 954.4,503.1 954.8,507.4 954.8,511.7 954.6,515.7 954.2,519.7 953.5,523.4 952.6,526.9 951.4,530.2 950.0,533.2" stroke="#0c0c0c" stroke-width="2.0" fill="none" stroke-linejoin="round" stroke-linecap="round" />
<polyline points="946.3,505.8 946.2,502.3 945.9,498.6 945.4,494.9 944.6,491.1 943.7,487.2 942.6,483.3 941.2,479.4 939.7,475.5 938.0,471.6 936.2,467.8 934.2,464.0 932.0,460.4 929.7,456.8 927.2,453.3 924.7,450.0 922.0,446.8 919.2,443.8 916.4,441.0 913.5,438.3 910.5,435.9 907.5,433.7 904.5,431.7 901.5,429.9 898.5,428.4 895.5,427.2 892.5,426.2 889.6,425.5 886.8,425.1 884.0,424.9 881.3,425.0 878.8,425.3 876.3,426.0 874.0,426.9 871.8,428.1 869.8,429.5 868.0,431.2 866.3,433.1 864.8,435.2 863.4,437.6 862.3,440.2 861.4,443.0 860.6,445.9 860.1,449.1 859.8,452.4 859.7,455.8 859.8,459.3 860.1,463.0 860.6,466.7 861.4,470.5 862.3,474.4 863.4,478.3 864.8,482.2 866.3,486.1 868.0,490.0 869.8,493.8 871.8,497.6 874.0,501.2 876.3,504.8 878.8,508.3 881.3,511.6 884.0,514.8 886.8,517.8 889.6,520.6 892.5,523.3 895.5,525.7 898.5,527.9 901.5,529.9 904.5,531.7 907.5,533.2 910.5,534.4 913.5,535.4 916.4,536.1 919.2,536.5 922.0,536.7 924.7,536.6 927.2,536.3 929.7,535.6 932.0,534.7 934.2,533.5 936.2,532.1 938.0,530.4 939.7,528.5 941.2,526.4 942.6,524.0 943.7,521.4 944.6,518.6 945.4,515.7 945.9,512.5 946.2,509.2 946.3,505.8" stroke="#0c0c0c" stroke-width="2.1999999999999997" fill="none" stroke-linejoin="round" stroke-linecap="round" />
<path d="M945.2,467.8 C947.7,467.5 954.7,467.5 960.0,466.0 C965.3,464.5 969.8,462.7 977.0,458.8 C984.2,454.9 998.7,445.5 1003.0,442.9" stroke="#111" stroke-width="1.9000000000000001" fill="none" stroke-linejoin="round" stroke-linecap="round" />
<polyline points="1003.0,442.9 1043.8,499.6" stroke="#0c0c0c" stroke-width="1.6" fill="none" stroke-linejoin="round" stroke-linecap="round" />
<polyline points="1003.0,442.9 1035.9,479.2" stroke="#0c0c0c" stroke-width="1.4000000000000001" fill="none" stroke-linejoin="round" stroke-linecap="round" />
<polyline points="1046.9,496.8 1046.9,496.4 1046.9,496.0 1046.8,495.6 1046.7,495.2 1046.6,494.7 1046.5,494.3 1046.3,493.8 1046.2,493.4 1046.0,493.0 1045.8,492.5 1045.5,492.1 1045.3,491.7 1045.0,491.3 1044.7,490.9 1044.5,490.5 1044.2,490.1 1043.8,489.8 1043.5,489.5 1043.2,489.2 1042.9,488.9 1042.5,488.7 1042.2,488.4 1041.8,488.2 1041.5,488.1 1041.1,487.9 1040.8,487.8 1040.5,487.7 1040.2,487.7 1039.8,487.7 1039.5,487.7 1039.3,487.7 1039.0,487.8 1038.7,487.9 1038.5,488.0 1038.2,488.2 1038.0,488.4 1037.8,488.6 1037.7,488.8 1037.5,489.1 1037.4,489.4 1037.3,489.7 1037.2,490.0 1037.1,490.4 1037.1,490.8 1037.1,491.2 1037.1,491.6 1037.1,492.0 1037.2,492.4 1037.3,492.8 1037.4,493.3 1037.5,493.7 1037.7,494.2 1037.8,494.6 1038.0,495.0 1038.2,495.5 1038.5,495.9 1038.7,496.3 1039.0,496.7 1039.3,497.1 1039.5,497.5 1039.8,497.9 1040.2,498.2 1040.5,498.5 1040.8,498.8 1041.1,499.1 1041.5,499.3 1041.8,499.6 1042.2,499.8 1042.5,499.9 1042.9,500.1 1043.2,500.2 1043.5,500.3 1043.8,500.3 1044.2,500.3 1044.5,500.3 1044.7,500.3 1045.0,500.2 1045.3,500.1 1045.5,500.0 1045.8,499.8 1046.0,499.6 1046.2,499.4 1046.3,499.2 1046.5,498.9 1046.6,498.6 1046.7,498.3 1046.8,498.0 1046.9,497.6 1046.9,497.2 1046.9,496.8" stroke="#0c0c0c" stroke-width="1.1" fill="none" stroke-linejoin="round" stroke-linecap="round" />
<polygon points="996.8,920.9 996.8,919.6 996.7,918.4 996.5,917.3 996.2,916.2 995.9,915.2 995.5,914.2 995.0,913.4 994.4,912.6 993.8,911.9 993.1,911.3 992.4,910.7 991.6,910.3 990.7,910.0 989.8,909.7 988.9,909.6 987.9,909.6 986.9,909.6 985.9,909.8 984.8,910.1 983.7,910.4 982.7,910.9 981.6,911.4 980.4,912.1 979.3,912.8 978.3,913.6 977.2,914.5 976.1,915.4 975.1,916.5 974.1,917.6 973.1,918.7 972.2,920.0 971.3,921.2 970.4,922.5 969.6,923.9 968.9,925.3 968.2,926.7 967.6,928.1 967.0,929.5 966.5,930.9 966.1,932.3 965.8,933.7 965.5,935.1 965.3,936.5 965.2,937.8 965.2,939.1 965.2,940.4 965.3,941.6 965.5,942.7 965.8,943.8 966.1,944.8 966.5,945.8 967.0,946.6 967.6,947.4 968.2,948.1 968.9,948.7 969.6,949.3 970.4,949.7 971.3,950.0 972.2,950.3 973.1,950.4 974.1,950.4 975.1,950.4 976.1,950.2 977.2,949.9 978.3,949.6 979.3,949.1 980.4,948.6 981.6,947.9 982.7,947.2 983.7,946.4 984.8,945.5 985.9,944.6 986.9,943.5 987.9,942.4 988.9,941.3 989.8,940.0 990.7,938.8 991.6,937.5 992.4,936.1 993.1,934.7 993.8,933.3 994.4,931.9 995.0,930.5 995.5,929.1 995.9,927.7 996.2,926.3 996.5,924.9 996.7,923.5 996.8,922.2 996.8,920.9" fill="#e6ec97" opacity="0.95" />
<polyline points="996.8,920.9 996.8,919.6 996.7,918.4 996.5,917.3 996.2,916.2 995.9,915.2 995.5,914.2 995.0,913.4 994.4,912.6 993.8,911.9 993.1,911.3 992.4,910.7 991.6,910.3 990.7,910.0 989.8,909.7 988.9,909.6 987.9,909.6 986.9,909.6 985.9,909.8 984.8,910.1 983.7,910.4 982.7,910.9 981.6,911.4 980.4,912.1 979.3,912.8 978.3,913.6 977.2,914.5 976.1,915.4 975.1,916.5 974.1,917.6 973.1,918.7 972.2,920.0 971.3,921.2 970.4,922.5 969.6,923.9 968.9,925.3 968.2,926.7 967.6,928.1 967.0,929.5 966.5,930.9 966.1,932.3 965.8,933.7 965.5,935.1 965.3,936.5 965.2,937.8 965.2,939.1 965.2,940.4 965.3,941.6 965.5,942.7 965.8,943.8 966.1,944.8 966.5,945.8 967.0,946.6 967.6,947.4 968.2,948.1 968.9,948.7 969.6,949.3 970.4,949.7 971.3,950.0 972.2,950.3 973.1,950.4 974.1,950.4 975.1,950.4 976.1,950.2 977.2,949.9 978.3,949.6 979.3,949.1 980.4,948.6 981.6,947.9 982.7,947.2 983.7,946.4 984.8,945.5 985.9,944.6 986.9,943.5 987.9,942.4 988.9,941.3 989.8,940.0 990.7,938.8 991.6,937.5 992.4,936.1 993.1,934.7 993.8,933.3 994.4,931.9 995.0,930.5 995.5,929.1 995.9,927.7 996.2,926.3 996.5,924.9 996.7,923.5 996.8,922.2 996.8,920.9" stroke="#b9c39a" stroke-width="0.8" fill="none" stroke-linejoin="round" stroke-linecap="round" opacity="0.6"/>
<line x1="990.0" y1="935.0" x2="1010.0" y2="946.5" stroke="#e9eea0" stroke-width="2.0" />
<polygon points="1030.1,943.6 1030.1,942.6 1030.0,941.6 1029.8,940.7 1029.6,939.8 1029.3,939.0 1029.0,938.2 1028.6,937.5 1028.2,936.9 1027.7,936.3 1027.1,935.8 1026.5,935.4 1025.9,935.0 1025.2,934.8 1024.5,934.6 1023.7,934.5 1022.9,934.4 1022.1,934.5 1021.3,934.6 1020.4,934.8 1019.5,935.1 1018.6,935.5 1017.7,935.9 1016.9,936.5 1016.0,937.0 1015.1,937.7 1014.2,938.4 1013.3,939.2 1012.5,940.0 1011.7,940.9 1010.9,941.9 1010.1,942.9 1009.4,943.9 1008.7,945.0 1008.1,946.0 1007.5,947.2 1006.9,948.3 1006.4,949.4 1006.0,950.6 1005.6,951.7 1005.3,952.9 1005.0,954.0 1004.8,955.2 1004.6,956.3 1004.5,957.4 1004.5,958.4 1004.5,959.4 1004.6,960.4 1004.8,961.3 1005.0,962.2 1005.3,963.0 1005.6,963.8 1006.0,964.5 1006.4,965.1 1006.9,965.7 1007.5,966.2 1008.1,966.6 1008.7,967.0 1009.4,967.2 1010.1,967.4 1010.9,967.5 1011.7,967.6 1012.5,967.5 1013.3,967.4 1014.2,967.2 1015.1,966.9 1016.0,966.5 1016.9,966.1 1017.7,965.5 1018.6,965.0 1019.5,964.3 1020.4,963.6 1021.3,962.8 1022.1,962.0 1022.9,961.1 1023.7,960.1 1024.5,959.1 1025.2,958.1 1025.9,957.0 1026.5,956.0 1027.1,954.8 1027.7,953.7 1028.2,952.6 1028.6,951.4 1029.0,950.3 1029.3,949.1 1029.6,948.0 1029.8,946.8 1030.0,945.7 1030.1,944.6 1030.1,943.6" fill="#e4ea94" opacity="1.0" />
<polyline points="1030.1,943.6 1030.1,942.6 1030.0,941.6 1029.8,940.7 1029.6,939.8 1029.3,939.0 1029.0,938.2 1028.6,937.5 1028.2,936.9 1027.7,936.3 1027.1,935.8 1026.5,935.4 1025.9,935.0 1025.2,934.8 1024.5,934.6 1023.7,934.5 1022.9,934.4 1022.1,934.5 1021.3,934.6 1020.4,934.8 1019.5,935.1 1018.6,935.5 1017.7,935.9 1016.9,936.5 1016.0,937.0 1015.1,937.7 1014.2,938.4 1013.3,939.2 1012.5,940.0 1011.7,940.9 1010.9,941.9 1010.1,942.9 1009.4,943.9 1008.7,945.0 1008.1,946.0 1007.5,947.2 1006.9,948.3 1006.4,949.4 1006.0,950.6 1005.6,951.7 1005.3,952.9 1005.0,954.0 1004.8,955.2 1004.6,956.3 1004.5,957.4 1004.5,958.4 1004.5,959.4 1004.6,960.4 1004.8,961.3 1005.0,962.2 1005.3,963.0 1005.6,963.8 1006.0,964.5 1006.4,965.1 1006.9,965.7 1007.5,966.2 1008.1,966.6 1008.7,967.0 1009.4,967.2 1010.1,967.4 1010.9,967.5 1011.7,967.6 1012.5,967.5 1013.3,967.4 1014.2,967.2 1015.1,966.9 1016.0,966.5 1016.9,966.1 1017.7,965.5 1018.6,965.0 1019.5,964.3 1020.4,963.6 1021.3,962.8 1022.1,962.0 1022.9,961.1 1023.7,960.1 1024.5,959.1 1025.2,958.1 1025.9,957.0 1026.5,956.0 1027.1,954.8 1027.7,953.7 1028.2,952.6 1028.6,951.4 1029.0,950.3 1029.3,949.1 1029.6,948.0 1029.8,946.8 1030.0,945.7 1030.1,944.6 1030.1,943.6" stroke="#0c0c0c" stroke-width="1.9000000000000001" fill="none" stroke-linejoin="round" stroke-linecap="round" />
<line x1="382.0" y1="781.5" x2="446.0" y2="744.5" stroke="#efbf45" stroke-width="1.9" opacity="0.95"/>
<line x1="457.0" y1="738.2" x2="475.0" y2="727.8" stroke="#efbf45" stroke-width="1.9" opacity="0.95"/>
<line x1="488.0" y1="720.3" x2="512.0" y2="706.4" stroke="#efbf45" stroke-width="1.9" opacity="0.95"/>
<line x1="518.0" y1="703.0" x2="526.0" y2="698.4" stroke="#efbf45" stroke-width="1.33" opacity="0.47"/>
<line x1="536.0" y1="692.6" x2="550.0" y2="684.5" stroke="#efbf45" stroke-width="1.33" opacity="0.38"/>
<line x1="615.0" y1="647.0" x2="662.0" y2="619.8" stroke="#efbf45" stroke-width="1.33" opacity="0.95"/>
<line x1="667.0" y1="616.9" x2="679.0" y2="610.0" stroke="#efbf45" stroke-width="1.33" opacity="0.95"/>
<line x1="685.0" y1="606.5" x2="717.0" y2="588.1" stroke="#efbf45" stroke-width="1.33" opacity="0.95"/>
<line x1="765.0" y1="560.4" x2="811.0" y2="533.8" stroke="#efbf45" stroke-width="1.33" opacity="0.95"/>
<line x1="817.0" y1="530.3" x2="830.0" y2="522.8" stroke="#efbf45" stroke-width="1.33" opacity="0.95"/>
<line x1="836.0" y1="519.4" x2="874.0" y2="497.4" stroke="#efbf45" stroke-width="1.52" opacity="0.95"/>
<line x1="896.0" y1="484.7" x2="912.0" y2="475.5" stroke="#efbf45" stroke-width="1.71" opacity="0.95"/>
<line x1="924.0" y1="468.6" x2="986.0" y2="432.8" stroke="#efbf45" stroke-width="1.33" opacity="0.47"/>
<line x1="1026.0" y1="409.7" x2="1106.0" y2="363.5" stroke="#efbf45" stroke-width="1.14" opacity="0.33"/>
<line x1="465.8" y1="629.0" x2="465.8" y2="831.0" stroke="#efbf45" stroke-width="2.09" opacity="0.95"/>
<line x1="380.0" y1="683.3" x2="444.0" y2="720.3" stroke="#efbf45" stroke-width="1.71" opacity="0.95"/>
<line x1="456.0" y1="727.2" x2="476.0" y2="738.8" stroke="#efbf45" stroke-width="1.71" opacity="0.95"/>
<line x1="496.0" y1="750.3" x2="554.0" y2="783.8" stroke="#efbf45" stroke-width="2.28" opacity="0.95"/>
<line x1="466.0" y1="721.8" x2="466.0" y2="744.2" stroke="#efbf45" stroke-width="1.52" opacity="0.95"/>
<line x1="458.2" y1="737.5" x2="473.8" y2="728.5" stroke="#efbf45" stroke-width="1.52" opacity="0.95"/>
<line x1="458.2" y1="728.5" x2="473.8" y2="737.5" stroke="#efbf45" stroke-width="1.52" opacity="0.95"/>
<line x1="575.0" y1="571.0" x2="575.0" y2="598.0" stroke="#efbf45" stroke-width="1.52" opacity="0.95"/>
<line x1="575.0" y1="598.0" x2="575.0" y2="768.0" stroke="#efbf45" stroke-width="1.33" opacity="0.43"/>
<line x1="574.0" y1="657.2" x2="574.0" y2="679.8" stroke="#efbf45" stroke-width="1.14" opacity="0.43"/>
<line x1="566.2" y1="673.0" x2="581.8" y2="664.0" stroke="#efbf45" stroke-width="1.14" opacity="0.43"/>
<line x1="566.2" y1="664.0" x2="581.8" y2="673.0" stroke="#efbf45" stroke-width="1.14" opacity="0.43"/>
<line x1="627.1" y1="700.0" x2="649.1" y2="712.7" stroke="#efbf45" stroke-width="1.33" opacity="0.76"/>
<line x1="738.8" y1="560.5" x2="738.8" y2="590.5" stroke="#efbf45" stroke-width="1.42" opacity="0.95"/>
<line x1="728.4" y1="581.5" x2="749.2" y2="569.5" stroke="#efbf45" stroke-width="1.42" opacity="0.95"/>
<line x1="728.4" y1="569.5" x2="749.2" y2="581.5" stroke="#efbf45" stroke-width="1.42" opacity="0.95"/>
<line x1="738.8" y1="556.0" x2="738.8" y2="690.0" stroke="#efbf45" stroke-width="1.33" opacity="0.95"/>
<line x1="738.8" y1="690.0" x2="800.8" y2="725.8" stroke="#efbf45" stroke-width="1.33" opacity="0.95"/>
<line x1="812.8" y1="732.7" x2="826.8" y2="740.8" stroke="#efbf45" stroke-width="1.33" opacity="0.95"/>
<line x1="838.8" y1="747.7" x2="888.8" y2="776.6" stroke="#efbf45" stroke-width="1.33" opacity="0.95"/>
<line x1="898.8" y1="782.4" x2="914.8" y2="791.6" stroke="#efbf45" stroke-width="1.33" opacity="0.76"/>
<line x1="924.8" y1="797.4" x2="1038.8" y2="863.2" stroke="#efbf45" stroke-width="1.33" opacity="0.76"/>
<line x1="930.2" y1="698.0" x2="930.2" y2="780.0" stroke="#efbf45" stroke-width="1.71" opacity="0.95"/>
<line x1="930.2" y1="782.0" x2="930.2" y2="870.0" stroke="#efbf45" stroke-width="1.52" opacity="0.85"/>
<line x1="930.0" y1="785.5" x2="930.0" y2="813.0" stroke="#efbf45" stroke-width="1.52" opacity="0.95"/>
<line x1="920.5" y1="804.8" x2="939.5" y2="793.8" stroke="#efbf45" stroke-width="1.52" opacity="0.95"/>
<line x1="920.5" y1="793.8" x2="939.5" y2="804.8" stroke="#efbf45" stroke-width="1.52" opacity="0.95"/>
<line x1="780.0" y1="885.9" x2="830.0" y2="857.0" stroke="#efbf45" stroke-width="1.9" opacity="0.95"/>
<line x1="842.0" y1="850.1" x2="900.0" y2="816.6" stroke="#efbf45" stroke-width="1.9" opacity="0.95"/>
<line x1="958.0" y1="783.1" x2="1030.0" y2="741.6" stroke="#efbf45" stroke-width="2.09" opacity="0.95"/>
<line x1="848.0" y1="752.0" x2="904.0" y2="784.3" stroke="#efbf45" stroke-width="1.9" opacity="0.95"/>
<line x1="956.0" y1="814.3" x2="1036.0" y2="860.5" stroke="#efbf45" stroke-width="2.09" opacity="0.95"/>
<line x1="930.0" y1="988.3" x2="930.0" y2="1013.3" stroke="#efbf45" stroke-width="0.95" opacity="0.38"/>
<line x1="921.3" y1="1005.8" x2="938.7" y2="995.8" stroke="#efbf45" stroke-width="0.95" opacity="0.38"/>
<line x1="921.3" y1="995.8" x2="938.7" y2="1005.8" stroke="#efbf45" stroke-width="0.95" opacity="0.38"/>
<line x1="930.2" y1="880.0" x2="930.2" y2="990.0" stroke="#efbf45" stroke-width="0.95" opacity="0.28"/>
<line x1="656.3" y1="940.8" x2="656.3" y2="970.8" stroke="#efbf45" stroke-width="1.42" opacity="0.95"/>
<line x1="645.9" y1="961.8" x2="666.7" y2="949.8" stroke="#efbf45" stroke-width="1.42" opacity="0.95"/>
<line x1="645.9" y1="949.8" x2="666.7" y2="961.8" stroke="#efbf45" stroke-width="1.42" opacity="0.95"/>
<line x1="680.3" y1="941.9" x2="768.3" y2="891.1" stroke="#efbf45" stroke-width="1.9" opacity="0.85"/>
<line x1="784.3" y1="881.9" x2="800.3" y2="872.7" stroke="#efbf45" stroke-width="1.52" opacity="0.85"/>
<line x1="816.3" y1="863.4" x2="871.3" y2="831.7" stroke="#efbf45" stroke-width="1.71" opacity="0.85"/>
<line x1="878.3" y1="827.6" x2="896.3" y2="817.2" stroke="#efbf45" stroke-width="1.71" opacity="0.85"/>
<line x1="684.3" y1="972.0" x2="764.3" y2="1018.2" stroke="#efbf45" stroke-width="1.9" opacity="0.71"/>
<line x1="465.8" y1="1032.8" x2="465.8" y2="1065.2" stroke="#efbf45" stroke-width="1.42" opacity="0.95"/>
<line x1="454.5" y1="1055.5" x2="477.1" y2="1042.5" stroke="#efbf45" stroke-width="1.42" opacity="0.95"/>
<line x1="454.5" y1="1042.5" x2="477.1" y2="1055.5" stroke="#efbf45" stroke-width="1.42" opacity="0.95"/>
<line x1="656.8" y1="1143.0" x2="656.8" y2="1175.5" stroke="#efbf45" stroke-width="1.42" opacity="0.95"/>
<line x1="645.5" y1="1165.8" x2="668.1" y2="1152.8" stroke="#efbf45" stroke-width="1.42" opacity="0.95"/>
<line x1="645.5" y1="1152.8" x2="668.1" y2="1165.8" stroke="#efbf45" stroke-width="1.42" opacity="0.95"/>
<line x1="680.8" y1="1145.4" x2="764.8" y2="1096.9" stroke="#efbf45" stroke-width="1.33" opacity="0.52"/>
<line x1="782.8" y1="1086.5" x2="798.8" y2="1077.3" stroke="#efbf45" stroke-width="1.33" opacity="0.38"/>
<line x1="816.8" y1="1066.9" x2="896.8" y2="1020.7" stroke="#efbf45" stroke-width="1.14" opacity="0.28"/>
<line x1="1017.3" y1="906.0" x2="1017.3" y2="993.0" stroke="#efbf45" stroke-width="1.23" opacity="0.85"/>
<line x1="979.3" y1="972.9" x2="1005.3" y2="957.9" stroke="#efbf45" stroke-width="1.52" opacity="0.95"/>
<line x1="1031.3" y1="942.9" x2="1057.3" y2="927.9" stroke="#efbf45" stroke-width="1.71" opacity="0.95"/>
<line x1="1029.3" y1="957.9" x2="1053.3" y2="971.8" stroke="#efbf45" stroke-width="1.52" opacity="0.95"/>
<line x1="1017.3" y1="946.6" x2="1017.3" y2="955.4" stroke="#efbf45" stroke-width="0.95" opacity="0.95"/>
<line x1="1014.3" y1="952.8" x2="1020.3" y2="949.2" stroke="#efbf45" stroke-width="0.95" opacity="0.95"/>
<line x1="1014.3" y1="949.2" x2="1020.3" y2="952.8" stroke="#efbf45" stroke-width="0.95" opacity="0.95"/>
<line x1="903.2" y1="385.0" x2="903.2" y2="576.0" stroke="#efbf45" stroke-width="1.9" opacity="0.95"/>
<line x1="819.0" y1="432.3" x2="851.0" y2="450.8" stroke="#efbf45" stroke-width="1.52" opacity="0.95"/>
<line x1="857.0" y1="454.2" x2="875.0" y2="464.6" stroke="#efbf45" stroke-width="1.52" opacity="0.85"/>
<line x1="925.0" y1="493.5" x2="987.0" y2="529.3" stroke="#efbf45" stroke-width="2.09" opacity="0.95"/>
<line x1="903.0" y1="469.6" x2="903.0" y2="492.1" stroke="#efbf45" stroke-width="1.71" opacity="0.95"/>
<line x1="895.2" y1="485.3" x2="910.8" y2="476.3" stroke="#efbf45" stroke-width="1.71" opacity="0.95"/>
<line x1="895.2" y1="476.3" x2="910.8" y2="485.3" stroke="#efbf45" stroke-width="1.71" opacity="0.95"/>
<line x1="1013.0" y1="320.0" x2="1013.0" y2="340.0" stroke="#efbf45" stroke-width="1.42" opacity="0.95"/>
<line x1="1013.0" y1="340.0" x2="1013.0" y2="520.0" stroke="#efbf45" stroke-width="1.23" opacity="0.38"/>
<line x1="1012.2" y1="407.8" x2="1012.2" y2="427.8" stroke="#efbf45" stroke-width="1.04" opacity="0.38"/>
<line x1="1005.3" y1="421.8" x2="1019.1" y2="413.8" stroke="#efbf45" stroke-width="1.04" opacity="0.38"/>
<line x1="1005.3" y1="413.8" x2="1019.1" y2="421.8" stroke="#efbf45" stroke-width="1.04" opacity="0.38"/>
<line x1="1062.2" y1="446.7" x2="1098.2" y2="467.5" stroke="#efbf45" stroke-width="1.42" opacity="0.85"/>
<line x1="932.2" y1="371.6" x2="972.2" y2="394.7" stroke="#efbf45" stroke-width="1.04" opacity="0.28"/>
<line x1="465.7" y1="416.0" x2="465.7" y2="629.0" stroke="#111" stroke-width="1.9" />
<line x1="1013.0" y1="103.5" x2="1013.0" y2="308.5" stroke="#111" stroke-width="1.9" />
<line x1="739.2" y1="321.5" x2="739.2" y2="555.0" stroke="#111" stroke-width="1.9" />
<line x1="575.0" y1="473.5" x2="575.0" y2="569.0" stroke="#111" stroke-width="1.9" />
<line x1="466.3" y1="427.3" x2="727.2" y2="276.8" stroke="#111" stroke-width="1.9" />
<line x1="783.8" y1="244.1" x2="1012.4" y2="112.3" stroke="#111" stroke-width="1.9" />
<polygon points="466.3,427.3 476.2,418.5 478.9,423.1" fill="#8c8c8c" stroke="#111" stroke-width="0.9" stroke-linejoin="round"/>
<polygon points="1012.4,112.3 1002.5,121.1 999.8,116.5" fill="#8c8c8c" stroke="#111" stroke-width="0.9" stroke-linejoin="round"/>
<text transform="matrix(0.8660,-0.5000,0.0000,1.1550,753.8,269.7)" font-size="24" text-anchor="middle" fill="#1c2a6c" letter-spacing="0" >100</text>
<line x1="466.3" y1="487.6" x2="581.4" y2="421.2" stroke="#111" stroke-width="1.9" />
<line x1="630.3" y1="392.8" x2="738.6" y2="330.5" stroke="#111" stroke-width="1.9" />
<polygon points="466.3,487.6 476.2,478.8 478.9,483.4" fill="#8c8c8c" stroke="#111" stroke-width="0.9" stroke-linejoin="round"/>
<polygon points="738.6,330.5 728.7,339.3 726.0,334.7" fill="#8c8c8c" stroke="#111" stroke-width="0.9" stroke-linejoin="round"/>
<text transform="matrix(0.8660,-0.5000,0.0000,1.1550,604.3,417.0)" font-size="24" text-anchor="middle" fill="#1c2a6c" letter-spacing="0" >50</text>
<line x1="466.3" y1="545.8" x2="507.0" y2="522.3" stroke="#111" stroke-width="1.9" />
<line x1="543.1" y1="501.5" x2="574.4" y2="483.4" stroke="#111" stroke-width="1.9" />
<polygon points="466.3,545.8 476.2,537.0 478.9,541.6" fill="#8c8c8c" stroke="#111" stroke-width="0.9" stroke-linejoin="round"/>
<polygon points="574.4,483.4 564.5,492.2 561.8,487.6" fill="#8c8c8c" stroke="#111" stroke-width="0.9" stroke-linejoin="round"/>
<text transform="matrix(0.8660,-0.5000,0.0000,1.1550,525.6,502.5)" font-size="24" text-anchor="middle" fill="#1c2a6c" letter-spacing="0" >2X</text>
<text transform="matrix(0.8660,-0.5000,0.0000,1.1550,525.8,527.5)" font-size="24" text-anchor="middle" fill="#1c2a6c" letter-spacing="0" >20</text>
<line x1="297.6" y1="636.5" x2="297.6" y2="795.0" stroke="#111" stroke-width="1.9" />
<line x1="297.6" y1="832.5" x2="297.6" y2="950.5" stroke="#111" stroke-width="1.9" />
<polygon points="297.6,636.3 300.3,649.3 294.9,649.3" fill="#8c8c8c" stroke="#111" stroke-width="0.9" stroke-linejoin="round"/>
<polygon points="297.6,950.8 294.9,937.8 300.3,937.8" fill="#8c8c8c" stroke="#111" stroke-width="0.9" stroke-linejoin="round"/>
<line x1="289.7" y1="631.2" x2="378.9" y2="682.2" stroke="#111" stroke-width="1.9" />
<text transform="matrix(0.8660,0.5000,0.0000,1.1550,277.7,813.0)" font-size="25" text-anchor="middle" fill="#1c2a6c" letter-spacing="0" >2X</text>
<text transform="matrix(0.8660,0.5000,0.0000,1.1550,317.0,833.8)" font-size="25" text-anchor="middle" fill="#1c2a6c" letter-spacing="0" >50</text>
<line x1="289.7" y1="947.1" x2="450.0" y2="1039.6" stroke="#111" stroke-width="1.9" />
<line x1="373.3" y1="938.0" x2="557.0" y2="1044.0" stroke="#111" stroke-width="1.9" />
<polygon points="330.8,969.8 320.8,978.6 318.2,973.9" fill="#8c8c8c" stroke="#111" stroke-width="0.9" stroke-linejoin="round"/>
<line x1="301.0" y1="986.8" x2="330.8" y2="969.8" stroke="#111" stroke-width="1.9" />
<polygon points="380.9,940.9 391.2,932.6 393.7,937.4" fill="#8c8c8c" stroke="#111" stroke-width="0.9" stroke-linejoin="round"/>
<line x1="408.7" y1="926.7" x2="380.9" y2="940.9" stroke="#111" stroke-width="1.9" />
<text transform="matrix(0.8660,-0.5000,1.0000,0.5770,360.5,961.5)" font-size="22" text-anchor="middle" fill="#1c2a6c" letter-spacing="0" >9</text>
<line x1="465.8" y1="841.0" x2="465.8" y2="1022.0" stroke="#111" stroke-width="1.9" />
<line x1="288.3" y1="1151.3" x2="448.8" y2="1059.0" stroke="#111" stroke-width="1.9" />
<line x1="364.8" y1="1137.9" x2="548.2" y2="1032.4" stroke="#111" stroke-width="1.9" />
<line x1="523.7" y1="1286.7" x2="756.0" y2="1152.6" stroke="#111" stroke-width="1.9" />
<line x1="591.0" y1="1196.5" x2="640.5" y2="1168.2" stroke="#111" stroke-width="1.9" />
<line x1="378.5" y1="1130.2" x2="452.0" y2="1172.5" stroke="#111" stroke-width="1.9" />
<line x1="494.0" y1="1197.0" x2="586.4" y2="1250.2" stroke="#111" stroke-width="1.9" />
<polygon points="378.5,1130.2 391.1,1134.4 388.4,1139.0" fill="#8c8c8c" stroke="#111" stroke-width="0.9" stroke-linejoin="round"/>
<polygon points="586.4,1250.2 573.8,1246.0 576.5,1241.4" fill="#8c8c8c" stroke="#111" stroke-width="0.9" stroke-linejoin="round"/>
<text transform="matrix(0.8660,0.5000,-1.0000,0.5770,460.5,1188.5)" font-size="23.5" text-anchor="middle" fill="#1c2a6c" letter-spacing="0" >38</text>
<line x1="296.5" y1="1146.8" x2="354.0" y2="1180.2" stroke="#111" stroke-width="1.9" />
<line x1="463.0" y1="1244.0" x2="529.5" y2="1283.0" stroke="#111" stroke-width="1.9" />
<polygon points="296.5,1146.8 309.1,1151.0 306.4,1155.7" fill="#8c8c8c" stroke="#111" stroke-width="0.9" stroke-linejoin="round"/>
<polygon points="529.5,1283.0 516.9,1278.8 519.6,1274.1" fill="#8c8c8c" stroke="#111" stroke-width="0.9" stroke-linejoin="round"/>
<text transform="matrix(0.8660,0.5000,-1.0000,0.5770,366.9,1201.0)" font-size="23.5" text-anchor="middle" fill="#1c2a6c" letter-spacing="0" >2X</text>
<text transform="matrix(0.8660,0.5000,-1.0000,0.5770,426.1,1225.0)" font-size="23.5" text-anchor="middle" fill="#1c2a6c" letter-spacing="0" >42.92</text>
<text transform="matrix(0.8660,0.5000,-1.0000,0.5770,405.7,1236.9)" font-size="23.5" text-anchor="middle" fill="#1c2a6c" letter-spacing="0" >42.93</text>
<line x1="567.5" y1="1175.5" x2="592.5" y2="1190.0" stroke="#111" stroke-width="1.9" />
<polygon points="592.5,1190.0 579.9,1185.8 582.6,1181.1" fill="#8c8c8c" stroke="#111" stroke-width="0.9" stroke-linejoin="round"/>
<line x1="671.0" y1="1235.0" x2="645.0" y2="1220.0" stroke="#111" stroke-width="1.9" />
<polygon points="645.0,1220.0 657.6,1224.2 654.9,1228.8" fill="#8c8c8c" stroke="#111" stroke-width="0.9" stroke-linejoin="round"/>
<text transform="matrix(0.8660,-0.5000,1.0000,0.5770,627.6,1210.9)" font-size="22" text-anchor="middle" fill="#1c2a6c" letter-spacing="0" >8</text>
<line x1="656.8" y1="987.0" x2="656.8" y2="1132.0" stroke="#111" stroke-width="1.9" />
<line x1="748.0" y1="1152.0" x2="982.5" y2="1289.0" stroke="#111" stroke-width="1.9" />
<line x1="1020.0" y1="1053.5" x2="1167.5" y2="1137.5" stroke="#111" stroke-width="1.9" />
<line x1="1191.0" y1="894.0" x2="1430.0" y2="1031.0" stroke="#111" stroke-width="1.9" />
<line x1="877.5" y1="1227.8" x2="970.0" y2="1174.8" stroke="#111" stroke-width="1.9" />
<line x1="1020.0" y1="1146.0" x2="1098.7" y2="1100.9" stroke="#111" stroke-width="1.9" />
<polygon points="877.5,1227.8 887.4,1219.0 890.1,1223.7" fill="#8c8c8c" stroke="#111" stroke-width="0.9" stroke-linejoin="round"/>
<polygon points="1098.7,1100.9 1088.8,1109.7 1086.1,1105.0" fill="#8c8c8c" stroke="#111" stroke-width="0.9" stroke-linejoin="round"/>
<text transform="matrix(0.8660,-0.5000,1.0000,0.5770,1005.9,1164.0)" font-size="23" text-anchor="middle" fill="#1c2a6c" letter-spacing="0" >41</text>
<line x1="967.5" y1="1279.2" x2="1182.5" y2="1155.5" stroke="#111" stroke-width="1.9" />
<line x1="1225.0" y1="1131.0" x2="1412.5" y2="1023.2" stroke="#111" stroke-width="1.9" />
<polygon points="967.5,1279.2 977.4,1270.4 980.1,1275.1" fill="#8c8c8c" stroke="#111" stroke-width="0.9" stroke-linejoin="round"/>
<polygon points="1412.5,1023.2 1402.6,1032.0 1399.9,1027.3" fill="#8c8c8c" stroke="#111" stroke-width="0.9" stroke-linejoin="round"/>
<text transform="matrix(0.8660,-0.5000,1.0000,0.5770,1214.7,1149.7)" font-size="23" text-anchor="middle" fill="#1c2a6c" letter-spacing="0" >82</text>
<line x1="1101.0" y1="1000.0" x2="1101.0" y2="1037.0" stroke="#111" stroke-width="1.9" />
<line x1="1101.0" y1="1067.0" x2="1101.0" y2="1100.0" stroke="#111" stroke-width="1.9" />
<polygon points="1101.0,1000.0 1103.7,1013.0 1098.3,1013.0" fill="#8c8c8c" stroke="#111" stroke-width="0.9" stroke-linejoin="round"/>
<polygon points="1101.0,1100.0 1098.3,1087.0 1103.7,1087.0" fill="#8c8c8c" stroke="#111" stroke-width="0.9" stroke-linejoin="round"/>
<text transform="matrix(0.8660,0.5000,0.0000,1.1550,1101.3,1061.1)" font-size="24" text-anchor="middle" fill="#1c2a6c" letter-spacing="0" >16</text>
<line x1="1057.5" y1="975.0" x2="1108.5" y2="1004.0" stroke="#111" stroke-width="1.9" />
<line x1="1160.0" y1="934.0" x2="1160.0" y2="1013.0" stroke="#111" stroke-width="1.9" />
<line x1="1160.0" y1="1049.0" x2="1160.0" y2="1134.0" stroke="#111" stroke-width="1.9" />
<polygon points="1160.0,934.0 1162.7,947.0 1157.3,947.0" fill="#8c8c8c" stroke="#111" stroke-width="0.9" stroke-linejoin="round"/>
<polygon points="1160.0,1134.0 1157.3,1121.0 1162.7,1121.0" fill="#8c8c8c" stroke="#111" stroke-width="0.9" stroke-linejoin="round"/>
<text transform="matrix(0.8660,0.5000,0.0000,1.1550,1159.4,1042.1)" font-size="24" text-anchor="middle" fill="#1c2a6c" letter-spacing="0" >32</text>
<line x1="1045.0" y1="865.5" x2="1166.0" y2="936.0" stroke="#111" stroke-width="1.9" />
<line x1="1264.0" y1="753.5" x2="1264.0" y2="787.0" stroke="#111" stroke-width="1.9" />
<polygon points="1264.0,787.5 1261.3,774.5 1266.7,774.5" fill="#8c8c8c" stroke="#111" stroke-width="0.9" stroke-linejoin="round"/>
<line x1="1264.0" y1="857.5" x2="1264.0" y2="894.0" stroke="#111" stroke-width="1.9" />
<polygon points="1264.0,857.5 1266.7,870.5 1261.3,870.5" fill="#8c8c8c" stroke="#111" stroke-width="0.9" stroke-linejoin="round"/>
<line x1="1192.5" y1="831.0" x2="1270.5" y2="786.3" stroke="#111" stroke-width="1.9" />
<line x1="1192.5" y1="900.5" x2="1270.5" y2="855.8" stroke="#111" stroke-width="1.9" />
<text transform="matrix(0.8660,-0.5000,0.0000,1.1550,1264.0,836.8)" font-size="22" text-anchor="middle" fill="#1c2a6c" letter-spacing="0" >11</text>
<line x1="1076.1" y1="558.6" x2="1111.8" y2="636.9" stroke="#111" stroke-width="1.9" />
<line x1="1169.6" y1="554.9" x2="1095.5" y2="596.8" stroke="#111" stroke-width="1.9" />
<polygon points="1095.0,597.1 1105.0,588.3 1107.6,593.0" fill="#8c8c8c" stroke="#111" stroke-width="0.9" stroke-linejoin="round"/>
<line x1="1016.6" y1="594.2" x2="1051.6" y2="671.3" stroke="#111" stroke-width="1.9" />
<line x1="987.7" y1="659.3" x2="1033.5" y2="633.3" stroke="#111" stroke-width="1.9" />
<polygon points="1033.5,633.3 1023.5,642.1 1020.9,637.4" fill="#8c8c8c" stroke="#111" stroke-width="0.9" stroke-linejoin="round"/>
<text transform="matrix(0.8660,-0.5000,0.0000,1.1550,1185.0,532.5)" font-size="24" text-anchor="middle" fill="#1c2a6c" letter-spacing="0" >2X</text>
<text transform="matrix(0.8660,-0.5000,0.0000,1.1550,1196.0,565.0)" font-size="24" text-anchor="middle" fill="#1c2a6c" letter-spacing="0" >11</text>
<polyline points="306.0,486.5 343.0,508.0 419.5,647.6" stroke="#111" stroke-width="1.9" fill="none" stroke-linejoin="round" stroke-linecap="round" />
<polygon points="419.5,647.6 410.8,637.6 415.5,634.9" fill="#8c8c8c" stroke="#111" stroke-width="0.9" stroke-linejoin="round"/>
<polyline points="1040.5,763.6 1342.5,664.0 1395.0,693.0" stroke="#111" stroke-width="1.9" fill="none" stroke-linejoin="round" stroke-linecap="round" />
<polygon points="1040.5,763.6 1052.0,757.0 1053.7,762.1" fill="#8c8c8c" stroke="#111" stroke-width="0.9" stroke-linejoin="round"/>
<polyline points="1001.0,978.0 817.5,1245.0 792.5,1256.0" stroke="#111" stroke-width="1.9" fill="none" stroke-linejoin="round" stroke-linecap="round" />
<polygon points="1001.0,978.0 995.8,990.2 991.4,987.2" fill="#8c8c8c" stroke="#111" stroke-width="0.9" stroke-linejoin="round"/>
<text transform="matrix(0.9200,0.0000,0.0000,1.0000,400.5,142.5)" font-size="28.6" text-anchor="start" fill="#1b2a62" letter-spacing="0" >FILLETS</text>
<text transform="matrix(1.0000,0.0000,0.0000,1.0000,527.5,142.5)" font-size="28.6" text-anchor="start" fill="#1b2a62" letter-spacing="0" >&amp;</text>
<text transform="matrix(0.9340,0.0000,0.0000,1.0000,400.5,182.7)" font-size="28.6" text-anchor="start" fill="#1b2a62" letter-spacing="0" >ROUNDS</text>
<text transform="matrix(1.0000,0.0000,0.0000,1.0000,539.5,182.7)" font-size="28.6" text-anchor="start" fill="#1b2a62" letter-spacing="0" >3</text>
<text transform="matrix(1.0000,0.0000,0.0000,1.0000,578.0,182.7)" font-size="28.6" text-anchor="start" fill="#1b2a62" letter-spacing="0" >R</text>
<text transform="matrix(0.8760,0.4820,0.0000,1.1550,79.5,263.7)" font-size="25.5" text-anchor="start" fill="#1c2a6c" letter-spacing="0" >2X</text>
<text transform="matrix(0.8760,0.4820,0.0000,1.1550,117.6,284.7)" font-size="25.5" text-anchor="start" fill="#1c2a6c" letter-spacing="0" >Ø</text>
<text transform="matrix(0.8760,0.4820,0.0000,1.1550,141.9,298.0)" font-size="25.5" text-anchor="start" fill="#1c2a6c" letter-spacing="0.6" >25.0</text>
<text transform="matrix(0.8760,0.4820,0.0000,1.1550,117.6,334.6)" font-size="25.5" text-anchor="start" fill="#1c2a6c" letter-spacing="0" >Ø</text>
<text transform="matrix(0.8760,0.4820,0.0000,1.1550,141.9,334.6)" font-size="25.5" text-anchor="start" fill="#1c2a6c" letter-spacing="0.5" >15.88</text>
<text transform="matrix(0.8760,0.4820,0.0000,1.1550,141.2,360.6)" font-size="25.5" text-anchor="start" fill="#1c2a6c" letter-spacing="0.5" >15.90</text>
<text transform="matrix(0.7534,0.4145,0.0000,1.1550,213.8,389.8)" font-size="25.5" text-anchor="start" fill="#1c2a6c" letter-spacing="0" >THRU</text>
<text transform="matrix(0.7534,0.4145,0.0000,1.1550,290.0,431.1)" font-size="25.5" text-anchor="start" fill="#1c2a6c" letter-spacing="0" >HOLE</text>
<text transform="matrix(0.8760,0.4820,0.0000,1.1550,160.1,416.1)" font-size="25.5" text-anchor="start" fill="#1c2a6c" letter-spacing="0" >Ø</text>
<text transform="matrix(0.8760,0.4820,0.0000,1.1550,184.5,430.5)" font-size="25.5" text-anchor="start" fill="#1c2a6c" letter-spacing="0.5" >17.5</text>
<text transform="matrix(0.8760,0.4820,0.0000,1.1550,241.0,461.0)" font-size="24" text-anchor="start" fill="#1c2a6c" letter-spacing="0" >↧</text>
<text transform="matrix(0.8760,0.4820,0.0000,1.1550,261.0,477.0)" font-size="25.5" text-anchor="start" fill="#1c2a6c" letter-spacing="0.5" >3.0</text>
<polyline points="118.0,370.0 118.0,388.0 150.0,407.0 150.0,389.0" stroke="#1c2a6c" stroke-width="1.6" fill="none" stroke-linejoin="round" stroke-linecap="round" />
<text transform="matrix(0.8660,0.5000,-1.1800,0.6809,1394.1,706.7)" font-size="23.5" text-anchor="start" fill="#1c2a6c" letter-spacing="4.3" >Ø32.0</text>
<text transform="matrix(0.8660,0.5000,-1.1800,0.6809,1355.7,739.5)" font-size="23.5" text-anchor="start" fill="#1c2a6c" letter-spacing="0" >Ø</text>
<text transform="matrix(0.8660,0.5000,-1.1800,0.6809,1389.0,747.6)" font-size="23.5" text-anchor="start" fill="#1c2a6c" letter-spacing="3.2" >18.99</text>
<text transform="matrix(0.8660,0.5000,-1.1800,0.6809,1368.3,761.8)" font-size="23.5" text-anchor="start" fill="#1c2a6c" letter-spacing="2.9" >19.01</text>
<text transform="matrix(0.7967,0.4600,-1.1800,0.6809,1444.9,792.3)" font-size="23.5" text-anchor="start" fill="#1c2a6c" letter-spacing="0" >THRU</text>
<text transform="matrix(0.8660,0.5000,-1.1800,0.6809,1521.9,838.4)" font-size="23.5" text-anchor="start" fill="#1c2a6c" letter-spacing="0" >HOLE</text>
<text transform="matrix(0.8660,-0.5000,-0.1527,1.2432,585.3,1383.5)" font-size="25" text-anchor="start" fill="#1c2a6c" letter-spacing="0" >Ø</text>
<text transform="matrix(0.8660,-0.5000,-0.1527,1.2432,610.5,1369.3)" font-size="25" text-anchor="start" fill="#1c2a6c" letter-spacing="0" >4.7</text>
<text transform="matrix(0.7967,-0.4600,-0.1405,1.2361,656.4,1343.5)" font-size="25" text-anchor="start" fill="#1c2a6c" letter-spacing="0" >THRU</text>
<text transform="matrix(0.7967,-0.4600,-0.1405,1.2361,732.0,1301.1)" font-size="25" text-anchor="start" fill="#1c2a6c" letter-spacing="0" >HOLE</text>
<rect x="1194.2" y="251.1" width="159.9" height="61.6" fill="#fff" stroke="#111" stroke-width="1.8"/>
<text transform="matrix(0.8300,0.0000,0.0000,1.0000,1272.3,294.4)" font-size="31" text-anchor="middle" fill="#1f3570" letter-spacing="0" >METRIC</text>
<text transform="matrix(1.3,0,0,1,1172,165)" font-size="76" style="font-family:'Liberation Serif',serif;font-weight:bold" fill="#222" stroke="#222" stroke-width="4.8" stroke-linejoin="round" >6</text>
<text transform="matrix(1.3,0,0,1,1172,165)" font-size="76" style="font-family:'Liberation Serif',serif;font-weight:bold" fill="#b4b4b4" stroke="#b4b4b4" stroke-width="1.5" stroke-linejoin="round" >6</text>
<text x="1235" y="142.5" font-size="34" style="font-family:'Liberation Serif',serif;font-weight:bold" fill="#222" stroke="#222" stroke-width="4.8" stroke-linejoin="round" textLength="285" lengthAdjust="spacingAndGlyphs">TRIP BRACKET</text>
<text x="1235" y="142.5" font-size="34" style="font-family:'Liberation Serif',serif;font-weight:bold" fill="#b4b4b4" stroke="#b4b4b4" stroke-width="1.5" stroke-linejoin="round" textLength="285" lengthAdjust="spacingAndGlyphs">TRIP BRACKET</text>
<text x="1235" y="194.5" font-size="34" style="font-family:'Liberation Serif',serif;font-weight:bold" fill="#222" stroke="#222" stroke-width="4.8" stroke-linejoin="round" textLength="210" lengthAdjust="spacingAndGlyphs">C1 - 1 REQD</text>
<text x="1235" y="194.5" font-size="34" style="font-family:'Liberation Serif',serif;font-weight:bold" fill="#b4b4b4" stroke="#b4b4b4" stroke-width="1.5" stroke-linejoin="round" textLength="210" lengthAdjust="spacingAndGlyphs">C1 - 1 REQD</text>
<line x1="1233.0" y1="157.3" x2="1528.0" y2="157.3" stroke="#222" stroke-width="1.8" />
</svg></body></html>
